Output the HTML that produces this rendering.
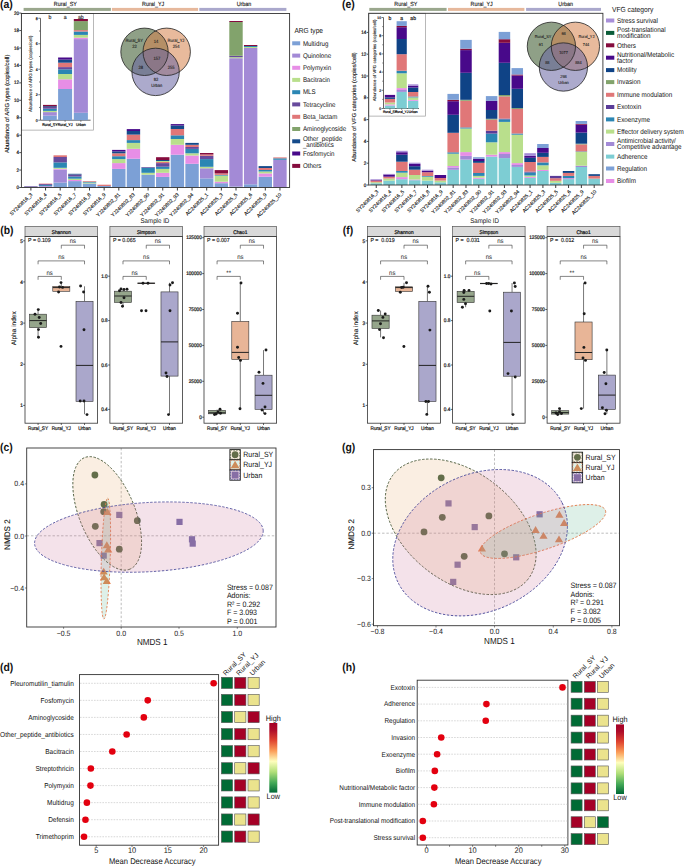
<!DOCTYPE html>
<html><head><meta charset="utf-8"><title>Figure</title>
<style>html,body{margin:0;padding:0;background:#fff;width:685px;height:866px;overflow:hidden}
svg{display:block}svg text{font-family:"Liberation Sans",sans-serif;text-rendering:geometricPrecision}</style></head>
<body>
<svg width="685" height="866" viewBox="0 0 685 866">
<rect width="685" height="866" fill="#fff"/>
<text x="0" y="7.8" font-size="10.5" fill="#111" font-weight="bold" transform="matrix(1 0 0 1.1 0 -0.78)">(a)</text>
<rect x="23.6" y="7.9" width="87.3" height="3" fill="#9aa78d"/>
<text x="65.3" y="6.1" font-size="5.4" text-anchor="middle" fill="#1a1a1a" stroke="#1a1a1a" stroke-width="0.12" transform="matrix(1 0 0 1.1 0 -0.61)">Rural_SY</text>
<rect x="111.9" y="7.9" width="86.2" height="3" fill="#e6b89c"/>
<text x="153.2" y="6.1" font-size="5.4" text-anchor="middle" fill="#1a1a1a" stroke="#1a1a1a" stroke-width="0.12" transform="matrix(1 0 0 1.1 0 -0.61)">Rural_YJ</text>
<rect x="199.3" y="7.9" width="87.1" height="3" fill="#aaa8cc"/>
<text x="244" y="6.1" font-size="5.4" text-anchor="middle" fill="#1a1a1a" stroke="#1a1a1a" stroke-width="0.12" transform="matrix(1 0 0 1.1 0 -0.61)">Urban</text>
<rect x="24.2" y="186.8" width="13.4" height="0.7" fill="#7ca0d6"/>
<rect x="24.2" y="186.2" width="13.4" height="0.6" fill="#674a9c"/>
<line x1="30.9" y1="187.5" x2="30.9" y2="190.5" stroke="#222" stroke-width="0.9"/>
<text x="32.7" y="194.9" font-size="5.1" text-anchor="end" fill="#111" stroke="#111" stroke-width="0.1" transform="rotate(-45 32.7 194.9)">SY240816_3</text>
<rect x="38.85" y="186.8" width="13.4" height="0.7" fill="#7ca0d6"/>
<rect x="38.85" y="186" width="13.4" height="0.8" fill="#a38ad6"/>
<rect x="38.85" y="185.1" width="13.4" height="0.9" fill="#2b86b3"/>
<rect x="38.85" y="184.1" width="13.4" height="1" fill="#674a9c"/>
<rect x="38.85" y="183.6" width="13.4" height="0.5" fill="#e07778"/>
<line x1="45.55" y1="187.5" x2="45.55" y2="190.5" stroke="#222" stroke-width="0.9"/>
<text x="47.35" y="194.9" font-size="5.1" text-anchor="end" fill="#111" stroke="#111" stroke-width="0.1" transform="rotate(-45 47.35 194.9)">SY240816_4</text>
<rect x="53.5" y="182.6" width="13.4" height="4.9" fill="#7ca0d6"/>
<rect x="53.5" y="169.7" width="13.4" height="12.9" fill="#a38ad6"/>
<rect x="53.5" y="168.8" width="13.4" height="0.9" fill="#e78ee6"/>
<rect x="53.5" y="167.8" width="13.4" height="1" fill="#b9df8c"/>
<rect x="53.5" y="162.4" width="13.4" height="5.4" fill="#2b86b3"/>
<rect x="53.5" y="157" width="13.4" height="5.4" fill="#674a9c"/>
<rect x="53.5" y="155.3" width="13.4" height="1.7" fill="#e07778"/>
<line x1="60.2" y1="187.5" x2="60.2" y2="190.5" stroke="#222" stroke-width="0.9"/>
<text x="62" y="194.9" font-size="5.1" text-anchor="end" fill="#111" stroke="#111" stroke-width="0.1" transform="rotate(-45 62 194.9)">SY240816_5</text>
<rect x="68.15" y="181.1" width="13.4" height="6.4" fill="#7ca0d6"/>
<rect x="68.15" y="180" width="13.4" height="1.1" fill="#e78ee6"/>
<rect x="68.15" y="178.7" width="13.4" height="1.3" fill="#b9df8c"/>
<rect x="68.15" y="176.5" width="13.4" height="2.2" fill="#2b86b3"/>
<rect x="68.15" y="174.5" width="13.4" height="2" fill="#674a9c"/>
<rect x="68.15" y="173.8" width="13.4" height="0.7" fill="#154a8a"/>
<line x1="74.85" y1="187.5" x2="74.85" y2="190.5" stroke="#222" stroke-width="0.9"/>
<text x="76.65" y="194.9" font-size="5.1" text-anchor="end" fill="#111" stroke="#111" stroke-width="0.1" transform="rotate(-45 76.65 194.9)">SY240816_7</text>
<rect x="82.8" y="183.5" width="13.4" height="4" fill="#7ca0d6"/>
<rect x="82.8" y="182.6" width="13.4" height="0.9" fill="#b9df8c"/>
<rect x="82.8" y="181.8" width="13.4" height="0.8" fill="#2b86b3"/>
<rect x="82.8" y="181.1" width="13.4" height="0.7" fill="#e07778"/>
<line x1="89.5" y1="187.5" x2="89.5" y2="190.5" stroke="#222" stroke-width="0.9"/>
<text x="91.3" y="194.9" font-size="5.1" text-anchor="end" fill="#111" stroke="#111" stroke-width="0.1" transform="rotate(-45 91.3 194.9)">SY240816_8</text>
<rect x="97.45" y="186" width="13.4" height="1.5" fill="#7ca0d6"/>
<rect x="97.45" y="184.7" width="13.4" height="1.3" fill="#e07778"/>
<line x1="104.15" y1="187.5" x2="104.15" y2="190.5" stroke="#222" stroke-width="0.9"/>
<text x="105.95" y="194.9" font-size="5.1" text-anchor="end" fill="#111" stroke="#111" stroke-width="0.1" transform="rotate(-45 105.95 194.9)">SY240816_9</text>
<rect x="112.1" y="168.9" width="13.4" height="18.6" fill="#7ca0d6"/>
<rect x="112.1" y="163.1" width="13.4" height="5.8" fill="#e78ee6"/>
<rect x="112.1" y="159.1" width="13.4" height="4" fill="#b9df8c"/>
<rect x="112.1" y="156.2" width="13.4" height="2.9" fill="#2b86b3"/>
<rect x="112.1" y="153.3" width="13.4" height="2.9" fill="#e07778"/>
<rect x="112.1" y="151.4" width="13.4" height="1.9" fill="#154a8a"/>
<rect x="112.1" y="149.9" width="13.4" height="1.5" fill="#48098a"/>
<line x1="118.8" y1="187.5" x2="118.8" y2="190.5" stroke="#222" stroke-width="0.9"/>
<text x="120.6" y="194.9" font-size="5.1" text-anchor="end" fill="#111" stroke="#111" stroke-width="0.1" transform="rotate(-45 120.6 194.9)">YJ240802_81</text>
<rect x="126.75" y="158.7" width="13.4" height="28.8" fill="#7ca0d6"/>
<rect x="126.75" y="148.8" width="13.4" height="9.9" fill="#e78ee6"/>
<rect x="126.75" y="142.9" width="13.4" height="5.9" fill="#b9df8c"/>
<rect x="126.75" y="140.1" width="13.4" height="2.8" fill="#2b86b3"/>
<rect x="126.75" y="134.6" width="13.4" height="5.5" fill="#e07778"/>
<rect x="126.75" y="131" width="13.4" height="3.6" fill="#154a8a"/>
<rect x="126.75" y="129.1" width="13.4" height="1.9" fill="#48098a"/>
<line x1="133.45" y1="187.5" x2="133.45" y2="190.5" stroke="#222" stroke-width="0.9"/>
<text x="135.25" y="194.9" font-size="5.1" text-anchor="end" fill="#111" stroke="#111" stroke-width="0.1" transform="rotate(-45 135.25 194.9)">YJ240802_83</text>
<rect x="141.4" y="174.7" width="13.4" height="12.8" fill="#7ca0d6"/>
<rect x="141.4" y="172.8" width="13.4" height="1.9" fill="#b9df8c"/>
<rect x="141.4" y="167.7" width="13.4" height="5.1" fill="#2b86b3"/>
<rect x="141.4" y="167" width="13.4" height="0.7" fill="#674a9c"/>
<line x1="148.1" y1="187.5" x2="148.1" y2="190.5" stroke="#222" stroke-width="0.9"/>
<text x="149.9" y="194.9" font-size="5.1" text-anchor="end" fill="#111" stroke="#111" stroke-width="0.1" transform="rotate(-45 149.9 194.9)">YJ240802_90</text>
<rect x="156.05" y="176.9" width="13.4" height="10.6" fill="#7ca0d6"/>
<rect x="156.05" y="172.8" width="13.4" height="4.1" fill="#e78ee6"/>
<rect x="156.05" y="168.9" width="13.4" height="3.9" fill="#b9df8c"/>
<rect x="156.05" y="166.7" width="13.4" height="2.2" fill="#2b86b3"/>
<rect x="156.05" y="163.1" width="13.4" height="3.6" fill="#674a9c"/>
<rect x="156.05" y="162" width="13.4" height="1.1" fill="#e07778"/>
<rect x="156.05" y="161" width="13.4" height="1" fill="#b9df8c"/>
<rect x="156.05" y="160" width="13.4" height="1" fill="#154a8a"/>
<rect x="156.05" y="157.2" width="13.4" height="2.8" fill="#850c3e"/>
<line x1="162.75" y1="187.5" x2="162.75" y2="190.5" stroke="#222" stroke-width="0.9"/>
<text x="164.55" y="194.9" font-size="5.1" text-anchor="end" fill="#111" stroke="#111" stroke-width="0.1" transform="rotate(-45 164.55 194.9)">YJ240802_91</text>
<rect x="170.7" y="154.7" width="13.4" height="32.8" fill="#7ca0d6"/>
<rect x="170.7" y="144.8" width="13.4" height="9.9" fill="#e78ee6"/>
<rect x="170.7" y="139" width="13.4" height="5.8" fill="#b9df8c"/>
<rect x="170.7" y="135.3" width="13.4" height="3.7" fill="#2b86b3"/>
<rect x="170.7" y="129" width="13.4" height="6.3" fill="#e07778"/>
<rect x="170.7" y="125.5" width="13.4" height="3.5" fill="#154a8a"/>
<rect x="170.7" y="124.1" width="13.4" height="1.4" fill="#48098a"/>
<line x1="177.4" y1="187.5" x2="177.4" y2="190.5" stroke="#222" stroke-width="0.9"/>
<text x="179.2" y="194.9" font-size="5.1" text-anchor="end" fill="#111" stroke="#111" stroke-width="0.1" transform="rotate(-45 179.2 194.9)">YJ240802_93</text>
<rect x="185.35" y="163.8" width="13.4" height="23.7" fill="#7ca0d6"/>
<rect x="185.35" y="155.5" width="13.4" height="8.3" fill="#e78ee6"/>
<rect x="185.35" y="153.3" width="13.4" height="2.2" fill="#b9df8c"/>
<rect x="185.35" y="148.9" width="13.4" height="4.4" fill="#2b86b3"/>
<rect x="185.35" y="147" width="13.4" height="1.9" fill="#674a9c"/>
<rect x="185.35" y="144.8" width="13.4" height="2.2" fill="#e07778"/>
<rect x="185.35" y="142.9" width="13.4" height="1.9" fill="#154a8a"/>
<line x1="192.05" y1="187.5" x2="192.05" y2="190.5" stroke="#222" stroke-width="0.9"/>
<text x="193.85" y="194.9" font-size="5.1" text-anchor="end" fill="#111" stroke="#111" stroke-width="0.1" transform="rotate(-45 193.85 194.9)">YJ240802_94</text>
<rect x="200" y="178.4" width="13.4" height="9.1" fill="#7ca0d6"/>
<rect x="200" y="168.3" width="13.4" height="10.1" fill="#a38ad6"/>
<rect x="200" y="166.8" width="13.4" height="1.5" fill="#b9df8c"/>
<rect x="200" y="159.1" width="13.4" height="7.7" fill="#2b86b3"/>
<rect x="200" y="155.8" width="13.4" height="3.3" fill="#674a9c"/>
<rect x="200" y="154.5" width="13.4" height="1.3" fill="#e07778"/>
<rect x="200" y="153" width="13.4" height="1.5" fill="#850c3e"/>
<line x1="206.7" y1="187.5" x2="206.7" y2="190.5" stroke="#222" stroke-width="0.9"/>
<text x="208.5" y="194.9" font-size="5.1" text-anchor="end" fill="#111" stroke="#111" stroke-width="0.1" transform="rotate(-45 208.5 194.9)">AC240825_1</text>
<rect x="214.65" y="183.2" width="13.4" height="4.3" fill="#7ca0d6"/>
<rect x="214.65" y="181.7" width="13.4" height="1.5" fill="#e78ee6"/>
<rect x="214.65" y="175.6" width="13.4" height="6.1" fill="#b9df8c"/>
<rect x="214.65" y="174.9" width="13.4" height="0.7" fill="#2b86b3"/>
<rect x="214.65" y="173.4" width="13.4" height="1.5" fill="#e07778"/>
<rect x="214.65" y="170.1" width="13.4" height="3.3" fill="#850c3e"/>
<line x1="221.35" y1="187.5" x2="221.35" y2="190.5" stroke="#222" stroke-width="0.9"/>
<text x="223.15" y="194.9" font-size="5.1" text-anchor="end" fill="#111" stroke="#111" stroke-width="0.1" transform="rotate(-45 223.15 194.9)">AC240825_3</text>
<rect x="229.3" y="186.5" width="13.4" height="1" fill="#7ca0d6"/>
<rect x="229.3" y="58.2" width="13.4" height="128.3" fill="#a38ad6"/>
<rect x="229.3" y="57.2" width="13.4" height="1" fill="#b9df8c"/>
<rect x="229.3" y="55.8" width="13.4" height="1.4" fill="#674a9c"/>
<rect x="229.3" y="22" width="13.4" height="33.8" fill="#82a36c"/>
<rect x="229.3" y="21" width="13.4" height="1" fill="#850c3e"/>
<line x1="236" y1="187.5" x2="236" y2="190.5" stroke="#222" stroke-width="0.9"/>
<text x="237.8" y="194.9" font-size="5.1" text-anchor="end" fill="#111" stroke="#111" stroke-width="0.1" transform="rotate(-45 237.8 194.9)">AC240825_5</text>
<rect x="243.95" y="184.3" width="13.4" height="3.2" fill="#7ca0d6"/>
<rect x="243.95" y="48" width="13.4" height="136.3" fill="#a38ad6"/>
<rect x="243.95" y="47" width="13.4" height="1" fill="#b9df8c"/>
<rect x="243.95" y="46" width="13.4" height="1" fill="#2b86b3"/>
<rect x="243.95" y="45" width="13.4" height="1" fill="#850c3e"/>
<line x1="250.65" y1="187.5" x2="250.65" y2="190.5" stroke="#222" stroke-width="0.9"/>
<text x="252.45" y="194.9" font-size="5.1" text-anchor="end" fill="#111" stroke="#111" stroke-width="0.1" transform="rotate(-45 252.45 194.9)">AC240825_6</text>
<rect x="258.6" y="176.7" width="13.4" height="10.8" fill="#7ca0d6"/>
<rect x="258.6" y="173.4" width="13.4" height="3.3" fill="#e78ee6"/>
<rect x="258.6" y="171.5" width="13.4" height="1.9" fill="#b9df8c"/>
<rect x="258.6" y="170" width="13.4" height="1.5" fill="#2b86b3"/>
<rect x="258.6" y="168" width="13.4" height="2" fill="#e07778"/>
<rect x="258.6" y="166.1" width="13.4" height="1.9" fill="#154a8a"/>
<line x1="265.3" y1="187.5" x2="265.3" y2="190.5" stroke="#222" stroke-width="0.9"/>
<text x="267.1" y="194.9" font-size="5.1" text-anchor="end" fill="#111" stroke="#111" stroke-width="0.1" transform="rotate(-45 267.1 194.9)">AC240825_9</text>
<rect x="273.25" y="159.8" width="13.4" height="27.7" fill="#a38ad6"/>
<rect x="273.25" y="158.3" width="13.4" height="1.5" fill="#2b86b3"/>
<rect x="273.25" y="157.4" width="13.4" height="0.9" fill="#e07778"/>
<line x1="279.95" y1="187.5" x2="279.95" y2="190.5" stroke="#222" stroke-width="0.9"/>
<text x="281.75" y="194.9" font-size="5.1" text-anchor="end" fill="#111" stroke="#111" stroke-width="0.1" transform="rotate(-45 281.75 194.9)">AC240825_10</text>
<line x1="19.3" y1="187.5" x2="21.4" y2="187.5" stroke="#222" stroke-width="0.8"/>
<text x="19" y="189.1" font-size="4.5" text-anchor="end" fill="#1a1a1a" stroke="#1a1a1a" stroke-width="0.2" transform="matrix(1 0 0 1.1 0 -18.91)">0</text>
<line x1="19.3" y1="170.06" x2="21.4" y2="170.06" stroke="#222" stroke-width="0.8"/>
<text x="19" y="171.66" font-size="4.5" text-anchor="end" fill="#1a1a1a" stroke="#1a1a1a" stroke-width="0.2" transform="matrix(1 0 0 1.1 0 -17.17)">2</text>
<line x1="19.3" y1="152.62" x2="21.4" y2="152.62" stroke="#222" stroke-width="0.8"/>
<text x="19" y="154.22" font-size="4.5" text-anchor="end" fill="#1a1a1a" stroke="#1a1a1a" stroke-width="0.2" transform="matrix(1 0 0 1.1 0 -15.42)">4</text>
<line x1="19.3" y1="135.18" x2="21.4" y2="135.18" stroke="#222" stroke-width="0.8"/>
<text x="19" y="136.78" font-size="4.5" text-anchor="end" fill="#1a1a1a" stroke="#1a1a1a" stroke-width="0.2" transform="matrix(1 0 0 1.1 0 -13.68)">6</text>
<line x1="19.3" y1="117.74" x2="21.4" y2="117.74" stroke="#222" stroke-width="0.8"/>
<text x="19" y="119.34" font-size="4.5" text-anchor="end" fill="#1a1a1a" stroke="#1a1a1a" stroke-width="0.2" transform="matrix(1 0 0 1.1 0 -11.93)">8</text>
<line x1="19.3" y1="100.3" x2="21.4" y2="100.3" stroke="#222" stroke-width="0.8"/>
<text x="19" y="101.9" font-size="4.5" text-anchor="end" fill="#1a1a1a" stroke="#1a1a1a" stroke-width="0.2" transform="matrix(1 0 0 1.1 0 -10.19)">10</text>
<line x1="19.3" y1="82.86" x2="21.4" y2="82.86" stroke="#222" stroke-width="0.8"/>
<text x="19" y="84.46" font-size="4.5" text-anchor="end" fill="#1a1a1a" stroke="#1a1a1a" stroke-width="0.2" transform="matrix(1 0 0 1.1 0 -8.45)">12</text>
<line x1="19.3" y1="65.42" x2="21.4" y2="65.42" stroke="#222" stroke-width="0.8"/>
<text x="19" y="67.02" font-size="4.5" text-anchor="end" fill="#1a1a1a" stroke="#1a1a1a" stroke-width="0.2" transform="matrix(1 0 0 1.1 0 -6.7)">14</text>
<line x1="19.3" y1="47.98" x2="21.4" y2="47.98" stroke="#222" stroke-width="0.8"/>
<text x="19" y="49.58" font-size="4.5" text-anchor="end" fill="#1a1a1a" stroke="#1a1a1a" stroke-width="0.2" transform="matrix(1 0 0 1.1 0 -4.96)">16</text>
<line x1="19.3" y1="30.54" x2="21.4" y2="30.54" stroke="#222" stroke-width="0.8"/>
<text x="19" y="32.14" font-size="4.5" text-anchor="end" fill="#1a1a1a" stroke="#1a1a1a" stroke-width="0.2" transform="matrix(1 0 0 1.1 0 -3.21)">18</text>
<line x1="19.3" y1="13.1" x2="21.4" y2="13.1" stroke="#222" stroke-width="0.8"/>
<text x="19" y="14.7" font-size="4.5" text-anchor="end" fill="#1a1a1a" stroke="#1a1a1a" stroke-width="0.2" transform="matrix(1 0 0 1.1 0 -1.47)">20</text>
<text x="9.2" y="103.9" font-size="5.85" text-anchor="middle" fill="#111" stroke="#111" stroke-width="0.1" transform="rotate(-90 9.2 103.9)">Abundance of ARG types (copies/cell)</text>
<text x="154.9" y="222.8" font-size="6.2" text-anchor="middle" fill="#111" transform="matrix(1 0 0 1.1 0 -22.28)">Sample ID</text>
<rect x="21.4" y="13.5" width="72.2" height="116.6" fill="#fff" stroke="#9a9a9a" stroke-width="0.7"/>
<line x1="40.5" y1="18.28" x2="40.5" y2="120.2" stroke="#555" stroke-width="0.9"/>
<line x1="40.5" y1="120.2" x2="90.6" y2="120.2" stroke="#555" stroke-width="0.9"/>
<line x1="38.3" y1="120.2" x2="40.5" y2="120.2" stroke="#555" stroke-width="0.8"/>
<text x="37.6" y="121.5" font-size="3.5" text-anchor="end" fill="#1a1a1a" stroke="#1a1a1a" stroke-width="0.2" transform="matrix(1 0 0 1.1 0 -12.15)">0</text>
<line x1="39" y1="107.46" x2="40.5" y2="107.46" stroke="#555" stroke-width="0.8"/>
<line x1="38.3" y1="94.72" x2="40.5" y2="94.72" stroke="#555" stroke-width="0.8"/>
<text x="37.6" y="96.02" font-size="3.5" text-anchor="end" fill="#1a1a1a" stroke="#1a1a1a" stroke-width="0.2" transform="matrix(1 0 0 1.1 0 -9.6)">2</text>
<line x1="39" y1="81.98" x2="40.5" y2="81.98" stroke="#555" stroke-width="0.8"/>
<line x1="38.3" y1="69.24" x2="40.5" y2="69.24" stroke="#555" stroke-width="0.8"/>
<text x="37.6" y="70.54" font-size="3.5" text-anchor="end" fill="#1a1a1a" stroke="#1a1a1a" stroke-width="0.2" transform="matrix(1 0 0 1.1 0 -7.05)">4</text>
<line x1="39" y1="56.5" x2="40.5" y2="56.5" stroke="#555" stroke-width="0.8"/>
<line x1="38.3" y1="43.76" x2="40.5" y2="43.76" stroke="#555" stroke-width="0.8"/>
<text x="37.6" y="45.06" font-size="3.5" text-anchor="end" fill="#1a1a1a" stroke="#1a1a1a" stroke-width="0.2" transform="matrix(1 0 0 1.1 0 -4.51)">6</text>
<line x1="39" y1="31.02" x2="40.5" y2="31.02" stroke="#555" stroke-width="0.8"/>
<line x1="38.3" y1="18.28" x2="40.5" y2="18.28" stroke="#555" stroke-width="0.8"/>
<text x="37.6" y="19.58" font-size="3.5" text-anchor="end" fill="#1a1a1a" stroke="#1a1a1a" stroke-width="0.2" transform="matrix(1 0 0 1.1 0 -1.96)">8</text>
<rect x="43" y="115.6" width="13.8" height="4.6" fill="#7ca0d6"/>
<rect x="43" y="112.1" width="13.8" height="3.5" fill="#a38ad6"/>
<rect x="43" y="110.9" width="13.8" height="1.2" fill="#b9df8c"/>
<rect x="43" y="108.7" width="13.8" height="2.2" fill="#2b86b3"/>
<rect x="43" y="107" width="13.8" height="1.7" fill="#674a9c"/>
<rect x="43" y="106.2" width="13.8" height="0.8" fill="#154a8a"/>
<rect x="43" y="104.9" width="13.8" height="1.3" fill="#850c3e"/>
<line x1="49.9" y1="120.2" x2="49.9" y2="122" stroke="#333" stroke-width="0.5"/>
<text x="49.9" y="126.4" font-size="3.6" text-anchor="middle" fill="#1a1a1a" stroke="#1a1a1a" stroke-width="0.2" transform="matrix(1 0 0 1.1 0 -12.64)">Rural_SY</text>
<text x="49.9" y="19.2" font-size="5.2" text-anchor="middle" fill="#1a1a1a" stroke="#1a1a1a" stroke-width="0.12" transform="matrix(1 0 0 1.1 0 -1.92)">b</text>
<rect x="58.1" y="89" width="14" height="31.2" fill="#7ca0d6"/>
<rect x="58.1" y="79.3" width="14" height="9.7" fill="#e78ee6"/>
<rect x="58.1" y="74" width="14" height="5.3" fill="#b9df8c"/>
<rect x="58.1" y="69.3" width="14" height="4.7" fill="#2b86b3"/>
<rect x="58.1" y="67.1" width="14" height="2.2" fill="#674a9c"/>
<rect x="58.1" y="62.7" width="14" height="4.4" fill="#e07778"/>
<rect x="58.1" y="59.6" width="14" height="3.1" fill="#154a8a"/>
<rect x="58.1" y="57.5" width="14" height="2.1" fill="#48098a"/>
<line x1="65.1" y1="120.2" x2="65.1" y2="122" stroke="#333" stroke-width="0.5"/>
<text x="65.1" y="126.4" font-size="3.6" text-anchor="middle" fill="#1a1a1a" stroke="#1a1a1a" stroke-width="0.2" transform="matrix(1 0 0 1.1 0 -12.64)">Rural_YJ</text>
<text x="65.1" y="19.2" font-size="5.2" text-anchor="middle" fill="#1a1a1a" stroke="#1a1a1a" stroke-width="0.12" transform="matrix(1 0 0 1.1 0 -1.92)">a</text>
<rect x="73.8" y="112.8" width="14.1" height="7.4" fill="#7ca0d6"/>
<rect x="73.8" y="39.1" width="14.1" height="73.7" fill="#a38ad6"/>
<rect x="73.8" y="37.7" width="14.1" height="1.4" fill="#e78ee6"/>
<rect x="73.8" y="34.9" width="14.1" height="2.8" fill="#b9df8c"/>
<rect x="73.8" y="31.5" width="14.1" height="3.4" fill="#2b86b3"/>
<rect x="73.8" y="30.1" width="14.1" height="1.4" fill="#e07778"/>
<rect x="73.8" y="21.1" width="14.1" height="9" fill="#82a36c"/>
<rect x="73.8" y="19" width="14.1" height="2.1" fill="#850c3e"/>
<line x1="80.85" y1="120.2" x2="80.85" y2="122" stroke="#333" stroke-width="0.5"/>
<text x="80.85" y="126.4" font-size="3.6" text-anchor="middle" fill="#1a1a1a" stroke="#1a1a1a" stroke-width="0.2" transform="matrix(1 0 0 1.1 0 -12.64)">Urban</text>
<text x="80.85" y="19.2" font-size="5.2" text-anchor="middle" fill="#1a1a1a" stroke="#1a1a1a" stroke-width="0.12" transform="matrix(1 0 0 1.1 0 -1.92)">ab</text>
<text x="31.8" y="73.8" font-size="4.55" text-anchor="middle" fill="#1a1a1a" stroke="#1a1a1a" stroke-width="0.1" transform="rotate(-90 31.8 73.8)">Abundance of ARG types (copies/cell)</text>
<rect x="21.4" y="13.5" width="268.2" height="174" fill="none" stroke="#333" stroke-width="0.9"/>
<g>
<circle cx="144.5" cy="51.8" r="23.7" fill="#335225" fill-opacity="0.55"/>
<circle cx="166.7" cy="51.8" r="23.7" fill="#d5824b" fill-opacity="0.55"/>
<circle cx="155.6" cy="71.9" r="23.7" fill="#6864a2" fill-opacity="0.55"/>
<circle cx="144.5" cy="51.8" r="23.7" fill="none" stroke="#222" stroke-width="0.8"/>
<circle cx="166.7" cy="51.8" r="23.7" fill="none" stroke="#222" stroke-width="0.8"/>
<circle cx="155.6" cy="71.9" r="23.7" fill="none" stroke="#222" stroke-width="0.8"/>
<text x="134.3" y="42" font-size="4.1" text-anchor="middle" fill="#222" stroke="#222" stroke-width="0.09" transform="matrix(1 0 0 1.1 0 -4.2)">Rural_SY</text>
<text x="134.6" y="48" font-size="4.1" text-anchor="middle" fill="#222" stroke="#222" stroke-width="0.09" transform="matrix(1 0 0 1.1 0 -4.8)">22</text>
<text x="156" y="42.6" font-size="4.1" text-anchor="middle" fill="#222" stroke="#222" stroke-width="0.09" transform="matrix(1 0 0 1.1 0 -4.26)">14</text>
<text x="176" y="42" font-size="4.1" text-anchor="middle" fill="#222" stroke="#222" stroke-width="0.09" transform="matrix(1 0 0 1.1 0 -4.2)">Rural_YJ</text>
<text x="176.2" y="48.2" font-size="4.1" text-anchor="middle" fill="#222" stroke="#222" stroke-width="0.09" transform="matrix(1 0 0 1.1 0 -4.82)">254</text>
<text x="156.8" y="60.2" font-size="4.1" text-anchor="middle" fill="#222" stroke="#222" stroke-width="0.09" transform="matrix(1 0 0 1.1 0 -6.02)">157</text>
<text x="140.8" y="68.6" font-size="4.1" text-anchor="middle" fill="#222" stroke="#222" stroke-width="0.09" transform="matrix(1 0 0 1.1 0 -6.86)">28</text>
<text x="171.2" y="68.6" font-size="4.1" text-anchor="middle" fill="#222" stroke="#222" stroke-width="0.09" transform="matrix(1 0 0 1.1 0 -6.86)">255</text>
<text x="156" y="81" font-size="4.1" text-anchor="middle" fill="#222" stroke="#222" stroke-width="0.09" transform="matrix(1 0 0 1.1 0 -8.1)">92</text>
<text x="156.8" y="87" font-size="4.1" text-anchor="middle" fill="#222" stroke="#222" stroke-width="0.09" transform="matrix(1 0 0 1.1 0 -8.7)">Urban</text>
</g>
<text x="294.4" y="32.6" font-size="6.6" fill="#111" transform="matrix(1 0 0 1.1 0 -3.26)">ARG type</text>
<rect x="292.2" y="41.3" width="8" height="4" fill="#7ca0d6"/>
<text x="302.9" y="45.5" font-size="6.2" fill="#111" transform="matrix(1 0 0 1.1 0 -4.55)">Multidrug</text>
<rect x="292.2" y="53.6" width="8" height="4" fill="#a38ad6"/>
<text x="302.9" y="57.8" font-size="6.2" fill="#111" transform="matrix(1 0 0 1.1 0 -5.78)">Quinolone</text>
<rect x="292.2" y="65.8" width="8" height="4" fill="#e78ee6"/>
<text x="302.9" y="70" font-size="6.2" fill="#111" transform="matrix(1 0 0 1.1 0 -7)">Polymyxin</text>
<rect x="292.2" y="77.9" width="8" height="4" fill="#b9df8c"/>
<text x="302.9" y="82.1" font-size="6.2" fill="#111" transform="matrix(1 0 0 1.1 0 -8.21)">Bacitracin</text>
<rect x="292.2" y="90.2" width="8" height="4" fill="#2b86b3"/>
<text x="302.9" y="94.4" font-size="6.2" fill="#111" transform="matrix(1 0 0 1.1 0 -9.44)">MLS</text>
<rect x="292.2" y="102.4" width="8" height="4" fill="#674a9c"/>
<text x="302.9" y="106.6" font-size="6.2" fill="#111" transform="matrix(1 0 0 1.1 0 -10.66)">Tetracycline</text>
<rect x="292.2" y="114.8" width="8" height="4" fill="#e07778"/>
<text x="302.9" y="119" font-size="6.2" fill="#111" transform="matrix(1 0 0 1.1 0 -11.9)">Beta_lactam</text>
<rect x="292.2" y="127" width="8" height="4" fill="#82a36c"/>
<text x="302.9" y="131.2" font-size="6.2" fill="#111" transform="matrix(1 0 0 1.1 0 -13.12)">Aminoglycoside</text>
<rect x="292.2" y="139.3" width="8" height="4" fill="#154a8a"/>
<rect x="292.2" y="151.5" width="8" height="4" fill="#48098a"/>
<text x="302.9" y="155.7" font-size="6.2" fill="#111" transform="matrix(1 0 0 1.1 0 -15.57)">Fosfomycin</text>
<rect x="292.2" y="163.9" width="8" height="4" fill="#850c3e"/>
<text x="302.9" y="168.1" font-size="6.2" fill="#111" transform="matrix(1 0 0 1.1 0 -16.81)">Others</text>
<text x="302.9" y="140.9" font-size="6.2" fill="#111" transform="matrix(1 0 0 1.1 0 -14.09)">Other_peptide</text>
<text x="302.9" y="147.2" font-size="6.2" fill="#111" transform="matrix(1 0 0 1.1 0 -14.72)">_antibiotics</text>
<text x="342" y="7.8" font-size="10.5" fill="#111" font-weight="bold" transform="matrix(1 0 0 1.1 0 -0.78)">(e)</text>
<rect x="369.3" y="7.9" width="77.3" height="3" fill="#9aa78d"/>
<text x="405.8" y="6.1" font-size="5.4" text-anchor="middle" fill="#1a1a1a" stroke="#1a1a1a" stroke-width="0.12" transform="matrix(1 0 0 1.1 0 -0.61)">Rural_SY</text>
<rect x="448" y="7.9" width="76.4" height="3" fill="#e6b89c"/>
<text x="481.6" y="6.1" font-size="5.4" text-anchor="middle" fill="#1a1a1a" stroke="#1a1a1a" stroke-width="0.12" transform="matrix(1 0 0 1.1 0 -0.61)">Rural_YJ</text>
<rect x="526.1" y="7.9" width="74.9" height="3" fill="#aaa8cc"/>
<text x="565.7" y="6.1" font-size="5.4" text-anchor="middle" fill="#1a1a1a" stroke="#1a1a1a" stroke-width="0.12" transform="matrix(1 0 0 1.1 0 -0.61)">Urban</text>
<rect x="370.5" y="183.2" width="11.5" height="1.8" fill="#7dcdd3"/>
<rect x="370.5" y="182.2" width="11.5" height="1" fill="#b9df8c"/>
<rect x="370.5" y="180.5" width="11.5" height="1.7" fill="#e07778"/>
<rect x="370.5" y="179.8" width="11.5" height="0.7" fill="#48098a"/>
<rect x="370.5" y="179.2" width="11.5" height="0.6" fill="#a88fd8"/>
<line x1="376.25" y1="185" x2="376.25" y2="188" stroke="#222" stroke-width="0.9"/>
<text x="378.85" y="191.9" font-size="5.1" text-anchor="end" fill="#111" stroke="#111" stroke-width="0.1" transform="rotate(-45 378.85 191.9)">SY240816_3</text>
<rect x="383.32" y="180.6" width="11.5" height="4.4" fill="#7dcdd3"/>
<rect x="383.32" y="178.5" width="11.5" height="2.1" fill="#b9df8c"/>
<rect x="383.32" y="176.7" width="11.5" height="1.8" fill="#e07778"/>
<rect x="383.32" y="174.5" width="11.5" height="2.2" fill="#48098a"/>
<rect x="383.32" y="173.9" width="11.5" height="0.6" fill="#a88fd8"/>
<line x1="389.07" y1="185" x2="389.07" y2="188" stroke="#222" stroke-width="0.9"/>
<text x="391.67" y="191.9" font-size="5.1" text-anchor="end" fill="#111" stroke="#111" stroke-width="0.1" transform="rotate(-45 391.67 191.9)">SY240816_4</text>
<rect x="396.14" y="179.2" width="11.5" height="5.8" fill="#7dcdd3"/>
<rect x="396.14" y="177.1" width="11.5" height="2.1" fill="#e78ee6"/>
<rect x="396.14" y="172.7" width="11.5" height="4.4" fill="#b9df8c"/>
<rect x="396.14" y="171" width="11.5" height="1.7" fill="#2b86b3"/>
<rect x="396.14" y="161.7" width="11.5" height="9.3" fill="#e07778"/>
<rect x="396.14" y="154.7" width="11.5" height="7" fill="#0f4386"/>
<rect x="396.14" y="152.2" width="11.5" height="2.5" fill="#48098a"/>
<rect x="396.14" y="150.8" width="11.5" height="1.4" fill="#a88fd8"/>
<line x1="401.89" y1="185" x2="401.89" y2="188" stroke="#222" stroke-width="0.9"/>
<text x="404.49" y="191.9" font-size="5.1" text-anchor="end" fill="#111" stroke="#111" stroke-width="0.1" transform="rotate(-45 404.49 191.9)">SY240816_5</text>
<rect x="408.96" y="180.2" width="11.5" height="4.8" fill="#7dcdd3"/>
<rect x="408.96" y="179.5" width="11.5" height="0.7" fill="#e78ee6"/>
<rect x="408.96" y="175" width="11.5" height="4.5" fill="#b9df8c"/>
<rect x="408.96" y="169.7" width="11.5" height="5.3" fill="#e07778"/>
<rect x="408.96" y="166.2" width="11.5" height="3.5" fill="#0f4386"/>
<rect x="408.96" y="163.9" width="11.5" height="2.3" fill="#48098a"/>
<rect x="408.96" y="162.7" width="11.5" height="1.2" fill="#a88fd8"/>
<line x1="414.71" y1="185" x2="414.71" y2="188" stroke="#222" stroke-width="0.9"/>
<text x="417.31" y="191.9" font-size="5.1" text-anchor="end" fill="#111" stroke="#111" stroke-width="0.1" transform="rotate(-45 417.31 191.9)">SY240816_7</text>
<rect x="421.78" y="180.6" width="11.5" height="4.4" fill="#7dcdd3"/>
<rect x="421.78" y="176.7" width="11.5" height="3.9" fill="#b9df8c"/>
<rect x="421.78" y="176" width="11.5" height="0.7" fill="#2b86b3"/>
<rect x="421.78" y="172.2" width="11.5" height="3.8" fill="#e07778"/>
<rect x="421.78" y="170.8" width="11.5" height="1.4" fill="#48098a"/>
<rect x="421.78" y="169.7" width="11.5" height="1.1" fill="#a88fd8"/>
<line x1="427.53" y1="185" x2="427.53" y2="188" stroke="#222" stroke-width="0.9"/>
<text x="430.13" y="191.9" font-size="5.1" text-anchor="end" fill="#111" stroke="#111" stroke-width="0.1" transform="rotate(-45 430.13 191.9)">SY240816_8</text>
<rect x="434.6" y="182.3" width="11.5" height="2.7" fill="#7dcdd3"/>
<rect x="434.6" y="180.6" width="11.5" height="1.7" fill="#b9df8c"/>
<rect x="434.6" y="178" width="11.5" height="2.6" fill="#e07778"/>
<rect x="434.6" y="175" width="11.5" height="3" fill="#48098a"/>
<line x1="440.35" y1="185" x2="440.35" y2="188" stroke="#222" stroke-width="0.9"/>
<text x="442.95" y="191.9" font-size="5.1" text-anchor="end" fill="#111" stroke="#111" stroke-width="0.1" transform="rotate(-45 442.95 191.9)">SY240816_9</text>
<rect x="447.42" y="169.8" width="11.5" height="15.2" fill="#7dcdd3"/>
<rect x="447.42" y="167.4" width="11.5" height="2.4" fill="#a38ad6"/>
<rect x="447.42" y="166" width="11.5" height="1.4" fill="#e78ee6"/>
<rect x="447.42" y="153.7" width="11.5" height="12.3" fill="#b9df8c"/>
<rect x="447.42" y="152.3" width="11.5" height="1.4" fill="#2b86b3"/>
<rect x="447.42" y="132.8" width="11.5" height="19.5" fill="#e07778"/>
<rect x="447.42" y="114.8" width="11.5" height="18" fill="#0f4386"/>
<rect x="447.42" y="101.2" width="11.5" height="13.6" fill="#48098a"/>
<rect x="447.42" y="99.8" width="11.5" height="1.4" fill="#850c3e"/>
<rect x="447.42" y="93.9" width="11.5" height="5.9" fill="#7ca0d6"/>
<line x1="453.17" y1="185" x2="453.17" y2="188" stroke="#222" stroke-width="0.9"/>
<text x="455.77" y="191.9" font-size="5.1" text-anchor="end" fill="#111" stroke="#111" stroke-width="0.1" transform="rotate(-45 455.77 191.9)">YJ240802_81</text>
<rect x="460.24" y="159.6" width="11.5" height="25.4" fill="#7dcdd3"/>
<rect x="460.24" y="155.9" width="11.5" height="3.7" fill="#a38ad6"/>
<rect x="460.24" y="152.1" width="11.5" height="3.8" fill="#e78ee6"/>
<rect x="460.24" y="128.5" width="11.5" height="23.6" fill="#b9df8c"/>
<rect x="460.24" y="127.4" width="11.5" height="1.1" fill="#2b86b3"/>
<rect x="460.24" y="100.8" width="11.5" height="26.6" fill="#e07778"/>
<rect x="460.24" y="99.8" width="11.5" height="1" fill="#82a36c"/>
<rect x="460.24" y="72.8" width="11.5" height="27" fill="#0f4386"/>
<rect x="460.24" y="50.1" width="11.5" height="22.7" fill="#48098a"/>
<rect x="460.24" y="48.7" width="11.5" height="1.4" fill="#850c3e"/>
<rect x="460.24" y="39.9" width="11.5" height="8.8" fill="#7ca0d6"/>
<line x1="465.99" y1="185" x2="465.99" y2="188" stroke="#222" stroke-width="0.9"/>
<text x="468.59" y="191.9" font-size="5.1" text-anchor="end" fill="#111" stroke="#111" stroke-width="0.1" transform="rotate(-45 468.59 191.9)">YJ240802_83</text>
<rect x="473.06" y="178.8" width="11.5" height="6.2" fill="#7dcdd3"/>
<rect x="473.06" y="177.7" width="11.5" height="1.1" fill="#e78ee6"/>
<rect x="473.06" y="175.9" width="11.5" height="1.8" fill="#b9df8c"/>
<rect x="473.06" y="173" width="11.5" height="2.9" fill="#2b86b3"/>
<rect x="473.06" y="162.8" width="11.5" height="10.2" fill="#e07778"/>
<rect x="473.06" y="161" width="11.5" height="1.8" fill="#0f4386"/>
<rect x="473.06" y="158.7" width="11.5" height="2.3" fill="#48098a"/>
<rect x="473.06" y="157.2" width="11.5" height="1.5" fill="#7ca0d6"/>
<line x1="478.81" y1="185" x2="478.81" y2="188" stroke="#222" stroke-width="0.9"/>
<text x="481.41" y="191.9" font-size="5.1" text-anchor="end" fill="#111" stroke="#111" stroke-width="0.1" transform="rotate(-45 481.41 191.9)">YJ240802_90</text>
<rect x="485.88" y="156.6" width="11.5" height="28.4" fill="#7dcdd3"/>
<rect x="485.88" y="154.7" width="11.5" height="1.9" fill="#e78ee6"/>
<rect x="485.88" y="142.3" width="11.5" height="12.4" fill="#b9df8c"/>
<rect x="485.88" y="133.6" width="11.5" height="8.7" fill="#2b86b3"/>
<rect x="485.88" y="130.7" width="11.5" height="2.9" fill="#5a3c98"/>
<rect x="485.88" y="119.7" width="11.5" height="11" fill="#e07778"/>
<rect x="485.88" y="118.8" width="11.5" height="0.9" fill="#82a36c"/>
<rect x="485.88" y="110" width="11.5" height="8.8" fill="#0f4386"/>
<rect x="485.88" y="100.8" width="11.5" height="9.2" fill="#48098a"/>
<rect x="485.88" y="96.1" width="11.5" height="4.7" fill="#7ca0d6"/>
<line x1="491.63" y1="185" x2="491.63" y2="188" stroke="#222" stroke-width="0.9"/>
<text x="494.23" y="191.9" font-size="5.1" text-anchor="end" fill="#111" stroke="#111" stroke-width="0.1" transform="rotate(-45 494.23 191.9)">YJ240802_91</text>
<rect x="498.7" y="158.1" width="11.5" height="26.9" fill="#7dcdd3"/>
<rect x="498.7" y="154" width="11.5" height="4.1" fill="#a38ad6"/>
<rect x="498.7" y="152.1" width="11.5" height="1.9" fill="#e78ee6"/>
<rect x="498.7" y="121.9" width="11.5" height="30.2" fill="#b9df8c"/>
<rect x="498.7" y="119.3" width="11.5" height="2.6" fill="#2b86b3"/>
<rect x="498.7" y="118.6" width="11.5" height="0.7" fill="#5a3c98"/>
<rect x="498.7" y="96.4" width="11.5" height="22.2" fill="#e07778"/>
<rect x="498.7" y="95" width="11.5" height="1.4" fill="#82a36c"/>
<rect x="498.7" y="62.8" width="11.5" height="32.2" fill="#0f4386"/>
<rect x="498.7" y="42.8" width="11.5" height="20" fill="#48098a"/>
<rect x="498.7" y="39.2" width="11.5" height="3.6" fill="#850c3e"/>
<rect x="498.7" y="31.9" width="11.5" height="7.3" fill="#7ca0d6"/>
<line x1="504.45" y1="185" x2="504.45" y2="188" stroke="#222" stroke-width="0.9"/>
<text x="507.05" y="191.9" font-size="5.1" text-anchor="end" fill="#111" stroke="#111" stroke-width="0.1" transform="rotate(-45 507.05 191.9)">YJ240802_93</text>
<rect x="511.52" y="166.9" width="11.5" height="18.1" fill="#7dcdd3"/>
<rect x="511.52" y="165" width="11.5" height="1.9" fill="#a38ad6"/>
<rect x="511.52" y="163.1" width="11.5" height="1.9" fill="#e78ee6"/>
<rect x="511.52" y="134.7" width="11.5" height="28.4" fill="#b9df8c"/>
<rect x="511.52" y="133.5" width="11.5" height="1.2" fill="#2b86b3"/>
<rect x="511.52" y="109" width="11.5" height="24.5" fill="#e07778"/>
<rect x="511.52" y="108.1" width="11.5" height="0.9" fill="#82a36c"/>
<rect x="511.52" y="88.8" width="11.5" height="19.3" fill="#0f4386"/>
<rect x="511.52" y="75.5" width="11.5" height="13.3" fill="#48098a"/>
<rect x="511.52" y="74.5" width="11.5" height="1" fill="#850c3e"/>
<rect x="511.52" y="68.1" width="11.5" height="6.4" fill="#7ca0d6"/>
<line x1="517.27" y1="185" x2="517.27" y2="188" stroke="#222" stroke-width="0.9"/>
<text x="519.87" y="191.9" font-size="5.1" text-anchor="end" fill="#111" stroke="#111" stroke-width="0.1" transform="rotate(-45 519.87 191.9)">YJ240802_94</text>
<rect x="524.34" y="177.9" width="11.5" height="7.1" fill="#7dcdd3"/>
<rect x="524.34" y="176.9" width="11.5" height="1" fill="#e78ee6"/>
<rect x="524.34" y="175.5" width="11.5" height="1.4" fill="#b9df8c"/>
<rect x="524.34" y="172.5" width="11.5" height="3" fill="#2b86b3"/>
<rect x="524.34" y="171.6" width="11.5" height="0.9" fill="#5a3c98"/>
<rect x="524.34" y="162" width="11.5" height="9.6" fill="#e07778"/>
<rect x="524.34" y="157.8" width="11.5" height="4.2" fill="#0f4386"/>
<rect x="524.34" y="155.8" width="11.5" height="2" fill="#48098a"/>
<rect x="524.34" y="153.2" width="11.5" height="2.6" fill="#a38ad6"/>
<line x1="530.09" y1="185" x2="530.09" y2="188" stroke="#222" stroke-width="0.9"/>
<text x="532.69" y="191.9" font-size="5.1" text-anchor="end" fill="#111" stroke="#111" stroke-width="0.1" transform="rotate(-45 532.69 191.9)">AC240825_1</text>
<rect x="537.16" y="171" width="11.5" height="14" fill="#7dcdd3"/>
<rect x="537.16" y="169.9" width="11.5" height="1.1" fill="#e78ee6"/>
<rect x="537.16" y="165.3" width="11.5" height="4.6" fill="#b9df8c"/>
<rect x="537.16" y="162.4" width="11.5" height="2.9" fill="#2b86b3"/>
<rect x="537.16" y="156.9" width="11.5" height="5.5" fill="#e07778"/>
<rect x="537.16" y="152.8" width="11.5" height="4.1" fill="#0f4386"/>
<rect x="537.16" y="148" width="11.5" height="4.8" fill="#48098a"/>
<rect x="537.16" y="144" width="11.5" height="4" fill="#7ca0d6"/>
<line x1="542.91" y1="185" x2="542.91" y2="188" stroke="#222" stroke-width="0.9"/>
<text x="545.51" y="191.9" font-size="5.1" text-anchor="end" fill="#111" stroke="#111" stroke-width="0.1" transform="rotate(-45 545.51 191.9)">AC240825_3</text>
<rect x="549.98" y="182.8" width="11.5" height="2.2" fill="#7dcdd3"/>
<rect x="549.98" y="180.8" width="11.5" height="2" fill="#b9df8c"/>
<rect x="549.98" y="178.2" width="11.5" height="2.6" fill="#e07778"/>
<rect x="549.98" y="175.9" width="11.5" height="2.3" fill="#5a3c98"/>
<line x1="555.73" y1="185" x2="555.73" y2="188" stroke="#222" stroke-width="0.9"/>
<text x="558.33" y="191.9" font-size="5.1" text-anchor="end" fill="#111" stroke="#111" stroke-width="0.1" transform="rotate(-45 558.33 191.9)">AC240825_5</text>
<rect x="562.8" y="179.1" width="11.5" height="5.9" fill="#7dcdd3"/>
<rect x="562.8" y="178.2" width="11.5" height="0.9" fill="#e78ee6"/>
<rect x="562.8" y="175.9" width="11.5" height="2.3" fill="#2b86b3"/>
<rect x="562.8" y="172.9" width="11.5" height="3" fill="#e07778"/>
<rect x="562.8" y="171" width="11.5" height="1.9" fill="#0f4386"/>
<line x1="568.55" y1="185" x2="568.55" y2="188" stroke="#222" stroke-width="0.9"/>
<text x="571.15" y="191.9" font-size="5.1" text-anchor="end" fill="#111" stroke="#111" stroke-width="0.1" transform="rotate(-45 571.15 191.9)">AC240825_6</text>
<rect x="575.62" y="167" width="11.5" height="18" fill="#7dcdd3"/>
<rect x="575.62" y="165.7" width="11.5" height="1.3" fill="#a38ad6"/>
<rect x="575.62" y="151.9" width="11.5" height="13.8" fill="#b9df8c"/>
<rect x="575.62" y="151.4" width="11.5" height="0.5" fill="#2b86b3"/>
<rect x="575.62" y="144.4" width="11.5" height="7" fill="#e07778"/>
<rect x="575.62" y="143.7" width="11.5" height="0.7" fill="#82a36c"/>
<rect x="575.62" y="132.6" width="11.5" height="11.1" fill="#0f4386"/>
<rect x="575.62" y="124.7" width="11.5" height="7.9" fill="#48098a"/>
<rect x="575.62" y="123.9" width="11.5" height="0.8" fill="#850c3e"/>
<rect x="575.62" y="121" width="11.5" height="2.9" fill="#7ca0d6"/>
<line x1="581.37" y1="185" x2="581.37" y2="188" stroke="#222" stroke-width="0.9"/>
<text x="583.97" y="191.9" font-size="5.1" text-anchor="end" fill="#111" stroke="#111" stroke-width="0.1" transform="rotate(-45 583.97 191.9)">AC240825_9</text>
<rect x="588.44" y="178.6" width="11.5" height="6.4" fill="#7dcdd3"/>
<rect x="588.44" y="175.9" width="11.5" height="2.7" fill="#e07778"/>
<rect x="588.44" y="174.2" width="11.5" height="1.7" fill="#0f4386"/>
<line x1="594.19" y1="185" x2="594.19" y2="188" stroke="#222" stroke-width="0.9"/>
<text x="596.79" y="191.9" font-size="5.1" text-anchor="end" fill="#111" stroke="#111" stroke-width="0.1" transform="rotate(-45 596.79 191.9)">AC240825_10</text>
<line x1="366.6" y1="185" x2="368.7" y2="185" stroke="#222" stroke-width="0.8"/>
<text x="366.3" y="186.6" font-size="4.5" text-anchor="end" fill="#1a1a1a" stroke="#1a1a1a" stroke-width="0.2" transform="matrix(1 0 0 1.1 0 -18.66)">0</text>
<line x1="366.6" y1="163.2" x2="368.7" y2="163.2" stroke="#222" stroke-width="0.8"/>
<text x="366.3" y="164.8" font-size="4.5" text-anchor="end" fill="#1a1a1a" stroke="#1a1a1a" stroke-width="0.2" transform="matrix(1 0 0 1.1 0 -16.48)">2</text>
<line x1="366.6" y1="141.4" x2="368.7" y2="141.4" stroke="#222" stroke-width="0.8"/>
<text x="366.3" y="143" font-size="4.5" text-anchor="end" fill="#1a1a1a" stroke="#1a1a1a" stroke-width="0.2" transform="matrix(1 0 0 1.1 0 -14.3)">4</text>
<line x1="366.6" y1="119.6" x2="368.7" y2="119.6" stroke="#222" stroke-width="0.8"/>
<text x="366.3" y="121.2" font-size="4.5" text-anchor="end" fill="#1a1a1a" stroke="#1a1a1a" stroke-width="0.2" transform="matrix(1 0 0 1.1 0 -12.12)">6</text>
<line x1="366.6" y1="97.8" x2="368.7" y2="97.8" stroke="#222" stroke-width="0.8"/>
<text x="366.3" y="99.4" font-size="4.5" text-anchor="end" fill="#1a1a1a" stroke="#1a1a1a" stroke-width="0.2" transform="matrix(1 0 0 1.1 0 -9.94)">8</text>
<line x1="366.6" y1="76" x2="368.7" y2="76" stroke="#222" stroke-width="0.8"/>
<text x="366.3" y="77.6" font-size="4.5" text-anchor="end" fill="#1a1a1a" stroke="#1a1a1a" stroke-width="0.2" transform="matrix(1 0 0 1.1 0 -7.76)">10</text>
<line x1="366.6" y1="54.2" x2="368.7" y2="54.2" stroke="#222" stroke-width="0.8"/>
<text x="366.3" y="55.8" font-size="4.5" text-anchor="end" fill="#1a1a1a" stroke="#1a1a1a" stroke-width="0.2" transform="matrix(1 0 0 1.1 0 -5.58)">12</text>
<line x1="366.6" y1="32.4" x2="368.7" y2="32.4" stroke="#222" stroke-width="0.8"/>
<text x="366.3" y="34" font-size="4.5" text-anchor="end" fill="#1a1a1a" stroke="#1a1a1a" stroke-width="0.2" transform="matrix(1 0 0 1.1 0 -3.4)">14</text>
<text x="356.3" y="107" font-size="5.75" text-anchor="middle" fill="#111" stroke="#111" stroke-width="0.1" transform="rotate(-90 356.3 107)">Abundance of VFG categories (copies/cell)</text>
<text x="484.6" y="222.8" font-size="6.2" text-anchor="middle" fill="#111" transform="matrix(1 0 0 1.1 0 -22.28)">Sample ID</text>
<rect x="368.7" y="13.3" width="56.9" height="102.8" fill="#fff" stroke="#9a9a9a" stroke-width="0.7"/>
<line x1="383.5" y1="17.5" x2="383.5" y2="108.5" stroke="#555" stroke-width="0.9"/>
<line x1="383.5" y1="108.5" x2="419" y2="108.5" stroke="#555" stroke-width="0.9"/>
<line x1="381.6" y1="108.5" x2="383.5" y2="108.5" stroke="#555" stroke-width="0.8"/>
<text x="381" y="109.7" font-size="3.3" text-anchor="end" fill="#1a1a1a" stroke="#1a1a1a" stroke-width="0.2" transform="matrix(1 0 0 1.1 0 -10.97)">0</text>
<line x1="382.3" y1="99.4" x2="383.5" y2="99.4" stroke="#555" stroke-width="0.8"/>
<line x1="381.6" y1="90.3" x2="383.5" y2="90.3" stroke="#555" stroke-width="0.8"/>
<text x="381" y="91.5" font-size="3.3" text-anchor="end" fill="#1a1a1a" stroke="#1a1a1a" stroke-width="0.2" transform="matrix(1 0 0 1.1 0 -9.15)">2</text>
<line x1="382.3" y1="81.2" x2="383.5" y2="81.2" stroke="#555" stroke-width="0.8"/>
<line x1="381.6" y1="72.1" x2="383.5" y2="72.1" stroke="#555" stroke-width="0.8"/>
<text x="381" y="73.3" font-size="3.3" text-anchor="end" fill="#1a1a1a" stroke="#1a1a1a" stroke-width="0.2" transform="matrix(1 0 0 1.1 0 -7.33)">4</text>
<line x1="382.3" y1="63" x2="383.5" y2="63" stroke="#555" stroke-width="0.8"/>
<line x1="381.6" y1="53.9" x2="383.5" y2="53.9" stroke="#555" stroke-width="0.8"/>
<text x="381" y="55.1" font-size="3.3" text-anchor="end" fill="#1a1a1a" stroke="#1a1a1a" stroke-width="0.2" transform="matrix(1 0 0 1.1 0 -5.51)">6</text>
<line x1="382.3" y1="44.8" x2="383.5" y2="44.8" stroke="#555" stroke-width="0.8"/>
<line x1="381.6" y1="35.7" x2="383.5" y2="35.7" stroke="#555" stroke-width="0.8"/>
<text x="381" y="36.9" font-size="3.3" text-anchor="end" fill="#1a1a1a" stroke="#1a1a1a" stroke-width="0.2" transform="matrix(1 0 0 1.1 0 -3.69)">8</text>
<line x1="382.3" y1="26.6" x2="383.5" y2="26.6" stroke="#555" stroke-width="0.8"/>
<line x1="381.6" y1="17.5" x2="383.5" y2="17.5" stroke="#555" stroke-width="0.8"/>
<text x="381" y="18.7" font-size="3.3" text-anchor="end" fill="#1a1a1a" stroke="#1a1a1a" stroke-width="0.2" transform="matrix(1 0 0 1.1 0 -1.87)">10</text>
<rect x="384.8" y="105.5" width="10.3" height="3" fill="#7dcdd3"/>
<rect x="384.8" y="104.4" width="10.3" height="1.1" fill="#e78ee6"/>
<rect x="384.8" y="102.5" width="10.3" height="1.9" fill="#b9df8c"/>
<rect x="384.8" y="98.9" width="10.3" height="3.6" fill="#e07778"/>
<rect x="384.8" y="97.4" width="10.3" height="1.5" fill="#0f4386"/>
<rect x="384.8" y="94.9" width="10.3" height="2.5" fill="#48098a"/>
<line x1="389.95" y1="108.5" x2="389.95" y2="110" stroke="#333" stroke-width="0.5"/>
<text x="389.95" y="112.8" font-size="3.3" text-anchor="middle" fill="#1a1a1a" stroke="#1a1a1a" stroke-width="0.2" transform="matrix(1 0 0 1.1 0 -11.28)">Rural_SY</text>
<text x="389.95" y="20" font-size="5.0" text-anchor="middle" fill="#1a1a1a" stroke="#1a1a1a" stroke-width="0.2" transform="matrix(1 0 0 1.1 0 -2)">b</text>
<rect x="396.6" y="91.9" width="10.2" height="16.6" fill="#7dcdd3"/>
<rect x="396.6" y="90" width="10.2" height="1.9" fill="#a38ad6"/>
<rect x="396.6" y="88.1" width="10.2" height="1.9" fill="#e78ee6"/>
<rect x="396.6" y="73.3" width="10.2" height="14.8" fill="#b9df8c"/>
<rect x="396.6" y="70.7" width="10.2" height="2.6" fill="#2b86b3"/>
<rect x="396.6" y="54.2" width="10.2" height="16.5" fill="#e07778"/>
<rect x="396.6" y="39" width="10.2" height="15.2" fill="#0f4386"/>
<rect x="396.6" y="27.2" width="10.2" height="11.8" fill="#48098a"/>
<rect x="396.6" y="25.9" width="10.2" height="1.3" fill="#850c3e"/>
<rect x="396.6" y="21.2" width="10.2" height="4.7" fill="#7ca0d6"/>
<line x1="401.7" y1="108.5" x2="401.7" y2="110" stroke="#333" stroke-width="0.5"/>
<text x="401.7" y="112.8" font-size="3.3" text-anchor="middle" fill="#1a1a1a" stroke="#1a1a1a" stroke-width="0.2" transform="matrix(1 0 0 1.1 0 -11.28)">Rural_YJ</text>
<text x="401.7" y="20" font-size="5.0" text-anchor="middle" fill="#1a1a1a" stroke="#1a1a1a" stroke-width="0.2" transform="matrix(1 0 0 1.1 0 -2)">a</text>
<rect x="408" y="100.8" width="10.3" height="7.7" fill="#7dcdd3"/>
<rect x="408" y="99.9" width="10.3" height="0.9" fill="#e78ee6"/>
<rect x="408" y="97.4" width="10.3" height="2.5" fill="#b9df8c"/>
<rect x="408" y="96.5" width="10.3" height="0.9" fill="#2b86b3"/>
<rect x="408" y="92" width="10.3" height="4.5" fill="#e07778"/>
<rect x="408" y="87.5" width="10.3" height="4.5" fill="#0f4386"/>
<rect x="408" y="85.6" width="10.3" height="1.9" fill="#48098a"/>
<rect x="408" y="84.3" width="10.3" height="1.3" fill="#a88fd8"/>
<line x1="413.15" y1="108.5" x2="413.15" y2="110" stroke="#333" stroke-width="0.5"/>
<text x="413.15" y="112.8" font-size="3.3" text-anchor="middle" fill="#1a1a1a" stroke="#1a1a1a" stroke-width="0.2" transform="matrix(1 0 0 1.1 0 -11.28)">Urban</text>
<text x="413.15" y="20" font-size="5.0" text-anchor="middle" fill="#1a1a1a" stroke="#1a1a1a" stroke-width="0.2" transform="matrix(1 0 0 1.1 0 -2)">ab</text>
<text x="376" y="60.5" font-size="4.3" text-anchor="middle" fill="#1a1a1a" stroke="#1a1a1a" stroke-width="0.1" transform="rotate(-90 376 60.5)">Abundance of VFG categories (copies/cell)</text>
<rect x="368.7" y="13.3" width="234.2" height="171.7" fill="none" stroke="#333" stroke-width="0.9"/>
<g>
<circle cx="551.4" cy="46.3" r="24.15" fill="#335225" fill-opacity="0.55"/>
<circle cx="575.4" cy="46.3" r="24.15" fill="#d5824b" fill-opacity="0.55"/>
<circle cx="563.4" cy="67" r="24.15" fill="#6864a2" fill-opacity="0.55"/>
<circle cx="551.4" cy="46.3" r="24.15" fill="none" stroke="#222" stroke-width="0.8"/>
<circle cx="575.4" cy="46.3" r="24.15" fill="none" stroke="#222" stroke-width="0.8"/>
<circle cx="563.4" cy="67" r="24.15" fill="none" stroke="#222" stroke-width="0.8"/>
<text x="543" y="38.4" font-size="3.9" text-anchor="middle" fill="#222" stroke="#222" stroke-width="0.09" transform="matrix(1 0 0 1.1 0 -3.84)">Rural_SY</text>
<text x="541" y="45.5" font-size="3.9" text-anchor="middle" fill="#222" stroke="#222" stroke-width="0.09" transform="matrix(1 0 0 1.1 0 -4.55)">61</text>
<text x="563.6" y="35.2" font-size="3.9" text-anchor="middle" fill="#222" stroke="#222" stroke-width="0.09" transform="matrix(1 0 0 1.1 0 -3.52)">68</text>
<text x="586.4" y="38.4" font-size="3.9" text-anchor="middle" fill="#222" stroke="#222" stroke-width="0.09" transform="matrix(1 0 0 1.1 0 -3.84)">Rural_YJ</text>
<text x="586" y="45.5" font-size="3.9" text-anchor="middle" fill="#222" stroke="#222" stroke-width="0.09" transform="matrix(1 0 0 1.1 0 -4.55)">744</text>
<text x="563.5" y="54.3" font-size="3.9" text-anchor="middle" fill="#222" stroke="#222" stroke-width="0.09" transform="matrix(1 0 0 1.1 0 -5.43)">1077</text>
<text x="547.3" y="64.2" font-size="3.9" text-anchor="middle" fill="#222" stroke="#222" stroke-width="0.09" transform="matrix(1 0 0 1.1 0 -6.42)">88</text>
<text x="578.4" y="64.2" font-size="3.9" text-anchor="middle" fill="#222" stroke="#222" stroke-width="0.09" transform="matrix(1 0 0 1.1 0 -6.42)">884</text>
<text x="563.5" y="78.3" font-size="3.9" text-anchor="middle" fill="#222" stroke="#222" stroke-width="0.09" transform="matrix(1 0 0 1.1 0 -7.83)">298</text>
<text x="563.5" y="84" font-size="3.9" text-anchor="middle" fill="#222" stroke="#222" stroke-width="0.09" transform="matrix(1 0 0 1.1 0 -8.4)">Urban</text>
</g>
<text x="612" y="11.6" font-size="6.7" fill="#111" transform="matrix(1 0 0 1.1 0 -1.16)">VFG category</text>
<rect x="606" y="18.5" width="8.3" height="4" fill="#a88fd8"/>
<text x="617" y="22.7" font-size="6.3" fill="#111" transform="matrix(1 0 0 1.1 0 -2.27)">Stress survival</text>
<rect x="606" y="30.9" width="8.3" height="4" fill="#0b5c38"/>
<text x="617" y="32.3" font-size="6.3" fill="#111" transform="matrix(1 0 0 1.1 0 -3.23)">Post-translational</text>
<text x="617" y="37.9" font-size="6.3" fill="#111" transform="matrix(1 0 0 1.1 0 -3.79)">modification</text>
<rect x="606" y="43.3" width="8.3" height="4" fill="#850c3e"/>
<text x="617" y="47.5" font-size="6.3" fill="#111" transform="matrix(1 0 0 1.1 0 -4.75)">Others</text>
<rect x="606" y="55.7" width="8.3" height="4" fill="#48098a"/>
<text x="617" y="57.1" font-size="6.3" fill="#111" transform="matrix(1 0 0 1.1 0 -5.71)">Nutritional/Metabolic</text>
<text x="617" y="62.7" font-size="6.3" fill="#111" transform="matrix(1 0 0 1.1 0 -6.27)">factor</text>
<rect x="606" y="68.1" width="8.3" height="4" fill="#0f4386"/>
<text x="617" y="72.3" font-size="6.3" fill="#111" transform="matrix(1 0 0 1.1 0 -7.23)">Motility</text>
<rect x="606" y="80.1" width="8.3" height="4" fill="#82a36c"/>
<text x="617" y="84.3" font-size="6.3" fill="#111" transform="matrix(1 0 0 1.1 0 -8.43)">Invasion</text>
<rect x="606" y="92.8" width="8.3" height="4" fill="#e07778"/>
<text x="617" y="97" font-size="6.3" fill="#111" transform="matrix(1 0 0 1.1 0 -9.7)">Immune modulation</text>
<rect x="606" y="105" width="8.3" height="4" fill="#5a3c98"/>
<text x="617" y="109.2" font-size="6.3" fill="#111" transform="matrix(1 0 0 1.1 0 -10.92)">Exotoxin</text>
<rect x="606" y="117.4" width="8.3" height="4" fill="#2b86b3"/>
<text x="617" y="121.6" font-size="6.3" fill="#111" transform="matrix(1 0 0 1.1 0 -12.16)">Exoenzyme</text>
<rect x="606" y="129.6" width="8.3" height="4" fill="#b9df8c"/>
<text x="617" y="133.8" font-size="6.3" fill="#111" transform="matrix(1 0 0 1.1 0 -13.38)">Effector delivery system</text>
<rect x="606" y="142" width="8.3" height="4" fill="#a38ad6"/>
<text x="617" y="143.4" font-size="6.3" fill="#111" transform="matrix(1 0 0 1.1 0 -14.34)">Antimicrobial activity/</text>
<text x="617" y="149" font-size="6.3" fill="#111" transform="matrix(1 0 0 1.1 0 -14.9)">Competitive advantage</text>
<rect x="606" y="154.6" width="8.3" height="4" fill="#7dcdd3"/>
<text x="617" y="158.8" font-size="6.3" fill="#111" transform="matrix(1 0 0 1.1 0 -15.88)">Adherence</text>
<rect x="606" y="166.5" width="8.3" height="4" fill="#7ca0d6"/>
<text x="617" y="170.7" font-size="6.3" fill="#111" transform="matrix(1 0 0 1.1 0 -17.07)">Regulation</text>
<rect x="606" y="179" width="8.3" height="4" fill="#e78ee6"/>
<text x="617" y="183.2" font-size="6.3" fill="#111" transform="matrix(1 0 0 1.1 0 -18.32)">Biofilm</text>
<text x="0.3" y="233.8" font-size="10.4" fill="#111" font-weight="bold" transform="matrix(1 0 0 1.1 0 -23.38)">(b)</text>
<rect x="25" y="226.5" width="72.6" height="9.9" fill="#d9d9d9" stroke="#555" stroke-width="0.7"/>
<text x="61.3" y="233.8" font-size="4.8" text-anchor="middle" fill="#111" stroke="#111" stroke-width="0.2" transform="matrix(1 0 0 1.1 0 -23.38)">Shannon</text>
<rect x="25" y="236.6" width="72.6" height="186.6" fill="none" stroke="#333" stroke-width="0.8"/>
<text x="28" y="242.4" font-size="5.3" fill="#111" stroke="#111" stroke-width="0.12" transform="matrix(1 0 0 1.1 0 -24.24)">P = 0.109</text>
<line x1="23.2" y1="405.4" x2="25" y2="405.4" stroke="#222" stroke-width="0.7"/>
<text x="22.8" y="407.1" font-size="4.7" text-anchor="end" fill="#1a1a1a" stroke="#1a1a1a" stroke-width="0.2" transform="matrix(1 0 0 1.1 0 -40.71)">1</text>
<line x1="23.2" y1="364.25" x2="25" y2="364.25" stroke="#222" stroke-width="0.7"/>
<text x="22.8" y="365.95" font-size="4.7" text-anchor="end" fill="#1a1a1a" stroke="#1a1a1a" stroke-width="0.2" transform="matrix(1 0 0 1.1 0 -36.6)">2</text>
<line x1="23.2" y1="323.1" x2="25" y2="323.1" stroke="#222" stroke-width="0.7"/>
<text x="22.8" y="324.8" font-size="4.7" text-anchor="end" fill="#1a1a1a" stroke="#1a1a1a" stroke-width="0.2" transform="matrix(1 0 0 1.1 0 -32.48)">3</text>
<line x1="23.2" y1="281.95" x2="25" y2="281.95" stroke="#222" stroke-width="0.7"/>
<text x="22.8" y="283.65" font-size="4.7" text-anchor="end" fill="#1a1a1a" stroke="#1a1a1a" stroke-width="0.2" transform="matrix(1 0 0 1.1 0 -28.37)">4</text>
<line x1="23.2" y1="240.8" x2="25" y2="240.8" stroke="#222" stroke-width="0.7"/>
<text x="22.8" y="242.5" font-size="4.7" text-anchor="end" fill="#1a1a1a" stroke="#1a1a1a" stroke-width="0.2" transform="matrix(1 0 0 1.1 0 -24.25)">5</text>
<line x1="38.07" y1="423.2" x2="38.07" y2="425" stroke="#222" stroke-width="0.7"/>
<text x="38.07" y="429.6" font-size="4.7" text-anchor="middle" fill="#1a1a1a" stroke="#1a1a1a" stroke-width="0.2" transform="matrix(1 0 0 1.1 0 -42.96)">Rural_SY</text>
<line x1="61.3" y1="423.2" x2="61.3" y2="425" stroke="#222" stroke-width="0.7"/>
<text x="61.3" y="429.6" font-size="4.7" text-anchor="middle" fill="#1a1a1a" stroke="#1a1a1a" stroke-width="0.2" transform="matrix(1 0 0 1.1 0 -42.96)">Rural_YJ</text>
<line x1="84.53" y1="423.2" x2="84.53" y2="425" stroke="#222" stroke-width="0.7"/>
<text x="84.53" y="429.6" font-size="4.7" text-anchor="middle" fill="#1a1a1a" stroke="#1a1a1a" stroke-width="0.2" transform="matrix(1 0 0 1.1 0 -42.96)">Urban</text>
<line x1="38.07" y1="309.6" x2="38.07" y2="314.2" stroke="#555" stroke-width="0.8"/>
<line x1="38.07" y1="327.6" x2="38.07" y2="337.3" stroke="#555" stroke-width="0.8"/>
<rect x="29.54" y="314.2" width="17.06" height="13.4" fill="#95a58b" stroke="#333" stroke-width="0.6"/>
<line x1="29.54" y1="320.6" x2="46.6" y2="320.6" stroke="#222" stroke-width="1.0"/>
<line x1="61.3" y1="282.6" x2="61.3" y2="286.4" stroke="#555" stroke-width="0.8"/>
<line x1="61.3" y1="291.3" x2="61.3" y2="291.3" stroke="#555" stroke-width="0.8"/>
<rect x="52.77" y="286.4" width="17.06" height="4.9" fill="#e8b597" stroke="#333" stroke-width="0.6"/>
<line x1="52.77" y1="287.6" x2="69.83" y2="287.6" stroke="#222" stroke-width="1.0"/>
<line x1="84.53" y1="286.3" x2="84.53" y2="301.3" stroke="#555" stroke-width="0.8"/>
<line x1="84.53" y1="401.4" x2="84.53" y2="414.2" stroke="#555" stroke-width="0.8"/>
<rect x="76" y="301.3" width="17.06" height="100.1" fill="#aaa7cb" stroke="#333" stroke-width="0.6"/>
<line x1="76" y1="365.4" x2="93.06" y2="365.4" stroke="#222" stroke-width="1.0"/>
<circle cx="38.3" cy="309.6" r="1.45" fill="#1a1a1a"/>
<circle cx="35" cy="314.2" r="1.45" fill="#1a1a1a"/>
<circle cx="39.2" cy="317.5" r="1.45" fill="#1a1a1a"/>
<circle cx="40.7" cy="323.5" r="1.45" fill="#1a1a1a"/>
<circle cx="38.5" cy="329.6" r="1.45" fill="#1a1a1a"/>
<circle cx="38.5" cy="337.3" r="1.45" fill="#1a1a1a"/>
<circle cx="61" cy="282.6" r="1.45" fill="#1a1a1a"/>
<circle cx="59.5" cy="287" r="1.45" fill="#1a1a1a"/>
<circle cx="62.6" cy="287.4" r="1.45" fill="#1a1a1a"/>
<circle cx="58.6" cy="292" r="1.45" fill="#1a1a1a"/>
<circle cx="61" cy="346.4" r="1.45" fill="#1a1a1a"/>
<circle cx="80.6" cy="286" r="1.45" fill="#1a1a1a"/>
<circle cx="83.6" cy="292" r="1.45" fill="#1a1a1a"/>
<circle cx="84" cy="329.8" r="1.45" fill="#1a1a1a"/>
<circle cx="80.2" cy="401" r="1.45" fill="#1a1a1a"/>
<circle cx="84" cy="401" r="1.45" fill="#1a1a1a"/>
<circle cx="87" cy="414.6" r="1.45" fill="#1a1a1a"/>
<polyline points="61.3,248.6 61.3,245.2 84.53,245.2 84.53,248.6" fill="none" stroke="#333" stroke-width="0.6"/>
<text x="72.92" y="243.3" font-size="6.0" text-anchor="middle" fill="#1a1a1a" transform="matrix(1 0 0 1.1 0 -24.33)">ns</text>
<polyline points="38.07,264.3 38.07,260.9 84.53,260.9 84.53,264.3" fill="none" stroke="#333" stroke-width="0.6"/>
<text x="61.3" y="259" font-size="6.0" text-anchor="middle" fill="#1a1a1a" transform="matrix(1 0 0 1.1 0 -25.9)">ns</text>
<polyline points="38.07,279.8 38.07,276.4 61.3,276.4 61.3,279.8" fill="none" stroke="#333" stroke-width="0.6"/>
<text x="49.68" y="274.5" font-size="6.0" text-anchor="middle" fill="#1a1a1a" transform="matrix(1 0 0 1.1 0 -27.45)">ns</text>
<rect x="109.9" y="226.5" width="72.7" height="9.9" fill="#d9d9d9" stroke="#555" stroke-width="0.7"/>
<text x="146.25" y="233.8" font-size="4.8" text-anchor="middle" fill="#111" stroke="#111" stroke-width="0.2" transform="matrix(1 0 0 1.1 0 -23.38)">Simpson</text>
<rect x="109.9" y="236.6" width="72.7" height="186.6" fill="none" stroke="#333" stroke-width="0.8"/>
<text x="112.9" y="242.4" font-size="5.3" fill="#111" stroke="#111" stroke-width="0.12" transform="matrix(1 0 0 1.1 0 -24.24)">P = 0.065</text>
<line x1="108.1" y1="409.4" x2="109.9" y2="409.4" stroke="#222" stroke-width="0.7"/>
<text x="107.7" y="411.1" font-size="4.7" text-anchor="end" fill="#1a1a1a" stroke="#1a1a1a" stroke-width="0.2" transform="matrix(1 0 0 1.1 0 -41.11)">0.4</text>
<line x1="108.1" y1="365" x2="109.9" y2="365" stroke="#222" stroke-width="0.7"/>
<text x="107.7" y="366.7" font-size="4.7" text-anchor="end" fill="#1a1a1a" stroke="#1a1a1a" stroke-width="0.2" transform="matrix(1 0 0 1.1 0 -36.67)">0.6</text>
<line x1="108.1" y1="320.6" x2="109.9" y2="320.6" stroke="#222" stroke-width="0.7"/>
<text x="107.7" y="322.3" font-size="4.7" text-anchor="end" fill="#1a1a1a" stroke="#1a1a1a" stroke-width="0.2" transform="matrix(1 0 0 1.1 0 -32.23)">0.8</text>
<line x1="108.1" y1="276.2" x2="109.9" y2="276.2" stroke="#222" stroke-width="0.7"/>
<text x="107.7" y="277.9" font-size="4.7" text-anchor="end" fill="#1a1a1a" stroke="#1a1a1a" stroke-width="0.2" transform="matrix(1 0 0 1.1 0 -27.79)">1.0</text>
<line x1="122.99" y1="423.2" x2="122.99" y2="425" stroke="#222" stroke-width="0.7"/>
<text x="122.99" y="429.6" font-size="4.7" text-anchor="middle" fill="#1a1a1a" stroke="#1a1a1a" stroke-width="0.2" transform="matrix(1 0 0 1.1 0 -42.96)">Rural_SY</text>
<line x1="146.25" y1="423.2" x2="146.25" y2="425" stroke="#222" stroke-width="0.7"/>
<text x="146.25" y="429.6" font-size="4.7" text-anchor="middle" fill="#1a1a1a" stroke="#1a1a1a" stroke-width="0.2" transform="matrix(1 0 0 1.1 0 -42.96)">Rural_YJ</text>
<line x1="169.51" y1="423.2" x2="169.51" y2="425" stroke="#222" stroke-width="0.7"/>
<text x="169.51" y="429.6" font-size="4.7" text-anchor="middle" fill="#1a1a1a" stroke="#1a1a1a" stroke-width="0.2" transform="matrix(1 0 0 1.1 0 -42.96)">Urban</text>
<line x1="122.99" y1="289" x2="122.99" y2="291.2" stroke="#555" stroke-width="0.8"/>
<line x1="122.99" y1="302.4" x2="122.99" y2="307" stroke="#555" stroke-width="0.8"/>
<rect x="114.44" y="291.2" width="17.08" height="11.2" fill="#95a58b" stroke="#333" stroke-width="0.6"/>
<line x1="114.44" y1="296" x2="131.53" y2="296" stroke="#222" stroke-width="1.0"/>
<line x1="146.25" y1="283.3" x2="146.25" y2="283" stroke="#555" stroke-width="0.8"/>
<line x1="146.25" y1="283.6" x2="146.25" y2="283.6" stroke="#555" stroke-width="0.8"/>
<rect x="137.71" y="283" width="17.08" height="0.6" fill="#e8b597" stroke="#333" stroke-width="0.6"/>
<line x1="137.71" y1="283.3" x2="154.79" y2="283.3" stroke="#222" stroke-width="1.0"/>
<line x1="169.51" y1="282.8" x2="169.51" y2="291.9" stroke="#555" stroke-width="0.8"/>
<line x1="169.51" y1="376.1" x2="169.51" y2="414.6" stroke="#555" stroke-width="0.8"/>
<rect x="160.97" y="291.9" width="17.08" height="84.2" fill="#aaa7cb" stroke="#333" stroke-width="0.6"/>
<line x1="160.97" y1="341.9" x2="178.06" y2="341.9" stroke="#222" stroke-width="1.0"/>
<circle cx="121" cy="289" r="1.45" fill="#1a1a1a"/>
<circle cx="124" cy="289.5" r="1.45" fill="#1a1a1a"/>
<circle cx="127" cy="289.2" r="1.45" fill="#1a1a1a"/>
<circle cx="119.5" cy="290.8" r="1.45" fill="#1a1a1a"/>
<circle cx="124" cy="297.8" r="1.45" fill="#1a1a1a"/>
<circle cx="121" cy="302.5" r="1.45" fill="#1a1a1a"/>
<circle cx="122.5" cy="306.3" r="1.45" fill="#1a1a1a"/>
<circle cx="143" cy="283.3" r="1.45" fill="#1a1a1a"/>
<circle cx="148" cy="283.3" r="1.45" fill="#1a1a1a"/>
<circle cx="141.5" cy="310.7" r="1.45" fill="#1a1a1a"/>
<circle cx="146" cy="310.7" r="1.45" fill="#1a1a1a"/>
<circle cx="170" cy="285" r="1.45" fill="#1a1a1a"/>
<circle cx="172.5" cy="282.8" r="1.45" fill="#1a1a1a"/>
<circle cx="170" cy="310.7" r="1.45" fill="#1a1a1a"/>
<circle cx="166" cy="373" r="1.45" fill="#1a1a1a"/>
<circle cx="167" cy="376.5" r="1.45" fill="#1a1a1a"/>
<circle cx="168.5" cy="414.6" r="1.45" fill="#1a1a1a"/>
<polyline points="146.25,248.6 146.25,245.2 169.51,245.2 169.51,248.6" fill="none" stroke="#333" stroke-width="0.6"/>
<text x="157.88" y="243.3" font-size="6.0" text-anchor="middle" fill="#1a1a1a" transform="matrix(1 0 0 1.1 0 -24.33)">ns</text>
<polyline points="122.99,264.3 122.99,260.9 169.51,260.9 169.51,264.3" fill="none" stroke="#333" stroke-width="0.6"/>
<text x="146.25" y="259" font-size="6.0" text-anchor="middle" fill="#1a1a1a" transform="matrix(1 0 0 1.1 0 -25.9)">ns</text>
<polyline points="122.99,279.8 122.99,276.4 146.25,276.4 146.25,279.8" fill="none" stroke="#333" stroke-width="0.6"/>
<text x="134.62" y="274.5" font-size="6.0" text-anchor="middle" fill="#1a1a1a" transform="matrix(1 0 0 1.1 0 -27.45)">ns</text>
<rect x="204" y="226.5" width="72.6" height="9.9" fill="#d9d9d9" stroke="#555" stroke-width="0.7"/>
<text x="240.3" y="233.8" font-size="4.8" text-anchor="middle" fill="#111" stroke="#111" stroke-width="0.2" transform="matrix(1 0 0 1.1 0 -23.38)">Chao1</text>
<rect x="204" y="236.6" width="72.6" height="186.6" fill="none" stroke="#333" stroke-width="0.8"/>
<text x="207" y="242.4" font-size="5.3" fill="#111" stroke="#111" stroke-width="0.12" transform="matrix(1 0 0 1.1 0 -24.24)">P = 0.007</text>
<line x1="202.2" y1="417.2" x2="204" y2="417.2" stroke="#222" stroke-width="0.7"/>
<text x="201.8" y="418.9" font-size="4.7" text-anchor="end" fill="#1a1a1a" stroke="#1a1a1a" stroke-width="0.2" transform="matrix(1 0 0 1.1 0 -41.89)">0</text>
<line x1="202.2" y1="381.3" x2="204" y2="381.3" stroke="#222" stroke-width="0.7"/>
<text x="201.8" y="383" font-size="4.7" text-anchor="end" fill="#1a1a1a" stroke="#1a1a1a" stroke-width="0.2" transform="matrix(1 0 0 1.1 0 -38.3)">25000</text>
<line x1="202.2" y1="345.4" x2="204" y2="345.4" stroke="#222" stroke-width="0.7"/>
<text x="201.8" y="347.1" font-size="4.7" text-anchor="end" fill="#1a1a1a" stroke="#1a1a1a" stroke-width="0.2" transform="matrix(1 0 0 1.1 0 -34.71)">50000</text>
<line x1="202.2" y1="309.5" x2="204" y2="309.5" stroke="#222" stroke-width="0.7"/>
<text x="201.8" y="311.2" font-size="4.7" text-anchor="end" fill="#1a1a1a" stroke="#1a1a1a" stroke-width="0.2" transform="matrix(1 0 0 1.1 0 -31.12)">75000</text>
<line x1="202.2" y1="273.6" x2="204" y2="273.6" stroke="#222" stroke-width="0.7"/>
<text x="201.8" y="275.3" font-size="4.7" text-anchor="end" fill="#1a1a1a" stroke="#1a1a1a" stroke-width="0.2" transform="matrix(1 0 0 1.1 0 -27.53)">100000</text>
<line x1="202.2" y1="237.7" x2="204" y2="237.7" stroke="#222" stroke-width="0.7"/>
<text x="201.8" y="239.4" font-size="4.7" text-anchor="end" fill="#1a1a1a" stroke="#1a1a1a" stroke-width="0.2" transform="matrix(1 0 0 1.1 0 -23.94)">125000</text>
<line x1="217.07" y1="423.2" x2="217.07" y2="425" stroke="#222" stroke-width="0.7"/>
<text x="217.07" y="429.6" font-size="4.7" text-anchor="middle" fill="#1a1a1a" stroke="#1a1a1a" stroke-width="0.2" transform="matrix(1 0 0 1.1 0 -42.96)">Rural_SY</text>
<line x1="240.3" y1="423.2" x2="240.3" y2="425" stroke="#222" stroke-width="0.7"/>
<text x="240.3" y="429.6" font-size="4.7" text-anchor="middle" fill="#1a1a1a" stroke="#1a1a1a" stroke-width="0.2" transform="matrix(1 0 0 1.1 0 -42.96)">Rural_YJ</text>
<line x1="263.53" y1="423.2" x2="263.53" y2="425" stroke="#222" stroke-width="0.7"/>
<text x="263.53" y="429.6" font-size="4.7" text-anchor="middle" fill="#1a1a1a" stroke="#1a1a1a" stroke-width="0.2" transform="matrix(1 0 0 1.1 0 -42.96)">Urban</text>
<line x1="217.07" y1="409.6" x2="217.07" y2="410.4" stroke="#555" stroke-width="0.8"/>
<line x1="217.07" y1="413.8" x2="217.07" y2="414.6" stroke="#555" stroke-width="0.8"/>
<rect x="208.54" y="410.4" width="17.06" height="3.4" fill="#95a58b" stroke="#333" stroke-width="0.6"/>
<line x1="208.54" y1="412.8" x2="225.6" y2="412.8" stroke="#222" stroke-width="1.0"/>
<line x1="240.3" y1="282.8" x2="240.3" y2="321.4" stroke="#555" stroke-width="0.8"/>
<line x1="240.3" y1="359.4" x2="240.3" y2="408.5" stroke="#555" stroke-width="0.8"/>
<rect x="231.77" y="321.4" width="17.06" height="38" fill="#e8b597" stroke="#333" stroke-width="0.6"/>
<line x1="231.77" y1="352.4" x2="248.83" y2="352.4" stroke="#222" stroke-width="1.0"/>
<line x1="263.53" y1="350.1" x2="263.53" y2="375.2" stroke="#555" stroke-width="0.8"/>
<line x1="263.53" y1="409.3" x2="263.53" y2="413.6" stroke="#555" stroke-width="0.8"/>
<rect x="255" y="375.2" width="17.06" height="34.1" fill="#aaa7cb" stroke="#333" stroke-width="0.6"/>
<line x1="255" y1="395.3" x2="272.06" y2="395.3" stroke="#222" stroke-width="1.0"/>
<circle cx="216" cy="414" r="1.45" fill="#1a1a1a"/>
<circle cx="218" cy="412" r="1.45" fill="#1a1a1a"/>
<circle cx="220" cy="409.3" r="1.45" fill="#1a1a1a"/>
<circle cx="214.5" cy="414.5" r="1.45" fill="#1a1a1a"/>
<circle cx="220.5" cy="413.2" r="1.45" fill="#1a1a1a"/>
<circle cx="241" cy="283" r="1.45" fill="#1a1a1a"/>
<circle cx="237.5" cy="313.3" r="1.45" fill="#1a1a1a"/>
<circle cx="237.5" cy="347.2" r="1.45" fill="#1a1a1a"/>
<circle cx="238.7" cy="357.5" r="1.45" fill="#1a1a1a"/>
<circle cx="240.5" cy="360.4" r="1.45" fill="#1a1a1a"/>
<circle cx="240" cy="408.7" r="1.45" fill="#1a1a1a"/>
<circle cx="266" cy="350" r="1.45" fill="#1a1a1a"/>
<circle cx="259" cy="372.3" r="1.45" fill="#1a1a1a"/>
<circle cx="263" cy="383.4" r="1.45" fill="#1a1a1a"/>
<circle cx="265" cy="407" r="1.45" fill="#1a1a1a"/>
<circle cx="262" cy="410" r="1.45" fill="#1a1a1a"/>
<circle cx="265" cy="413.6" r="1.45" fill="#1a1a1a"/>
<polyline points="240.3,248.6 240.3,245.2 263.53,245.2 263.53,248.6" fill="none" stroke="#333" stroke-width="0.6"/>
<text x="251.92" y="243.3" font-size="6.0" text-anchor="middle" fill="#1a1a1a" transform="matrix(1 0 0 1.1 0 -24.33)">ns</text>
<polyline points="217.07,264.3 217.07,260.9 263.53,260.9 263.53,264.3" fill="none" stroke="#333" stroke-width="0.6"/>
<text x="240.3" y="259" font-size="6.0" text-anchor="middle" fill="#1a1a1a" transform="matrix(1 0 0 1.1 0 -25.9)">ns</text>
<polyline points="217.07,279.8 217.07,276.4 240.3,276.4 240.3,279.8" fill="none" stroke="#333" stroke-width="0.6"/>
<text x="228.68" y="274.5" font-size="6.0" text-anchor="middle" fill="#1a1a1a" transform="matrix(1 0 0 1.1 0 -27.45)">**</text>
<text x="15.6" y="328.3" font-size="6.5" text-anchor="middle" fill="#111" stroke="#111" stroke-width="0.1" transform="rotate(-90 15.6 328.3)">Alpha index</text>
<text x="342.8" y="233.8" font-size="10.4" fill="#111" font-weight="bold" transform="matrix(1 0 0 1.1 0 -23.38)">(f)</text>
<rect x="367.4" y="226.5" width="73.2" height="9.9" fill="#d9d9d9" stroke="#555" stroke-width="0.7"/>
<text x="404" y="233.8" font-size="4.8" text-anchor="middle" fill="#111" stroke="#111" stroke-width="0.2" transform="matrix(1 0 0 1.1 0 -23.38)">Shannon</text>
<rect x="367.4" y="236.6" width="73.2" height="186.6" fill="none" stroke="#333" stroke-width="0.8"/>
<text x="370.4" y="242.4" font-size="5.3" fill="#111" stroke="#111" stroke-width="0.12" transform="matrix(1 0 0 1.1 0 -24.24)">P =  0.019</text>
<line x1="365.6" y1="405.4" x2="367.4" y2="405.4" stroke="#222" stroke-width="0.7"/>
<text x="365.2" y="407.1" font-size="4.7" text-anchor="end" fill="#1a1a1a" stroke="#1a1a1a" stroke-width="0.2" transform="matrix(1 0 0 1.1 0 -40.71)">1</text>
<line x1="365.6" y1="364.25" x2="367.4" y2="364.25" stroke="#222" stroke-width="0.7"/>
<text x="365.2" y="365.95" font-size="4.7" text-anchor="end" fill="#1a1a1a" stroke="#1a1a1a" stroke-width="0.2" transform="matrix(1 0 0 1.1 0 -36.6)">2</text>
<line x1="365.6" y1="323.1" x2="367.4" y2="323.1" stroke="#222" stroke-width="0.7"/>
<text x="365.2" y="324.8" font-size="4.7" text-anchor="end" fill="#1a1a1a" stroke="#1a1a1a" stroke-width="0.2" transform="matrix(1 0 0 1.1 0 -32.48)">3</text>
<line x1="365.6" y1="281.95" x2="367.4" y2="281.95" stroke="#222" stroke-width="0.7"/>
<text x="365.2" y="283.65" font-size="4.7" text-anchor="end" fill="#1a1a1a" stroke="#1a1a1a" stroke-width="0.2" transform="matrix(1 0 0 1.1 0 -28.37)">4</text>
<line x1="365.6" y1="240.8" x2="367.4" y2="240.8" stroke="#222" stroke-width="0.7"/>
<text x="365.2" y="242.5" font-size="4.7" text-anchor="end" fill="#1a1a1a" stroke="#1a1a1a" stroke-width="0.2" transform="matrix(1 0 0 1.1 0 -24.25)">5</text>
<line x1="380.58" y1="423.2" x2="380.58" y2="425" stroke="#222" stroke-width="0.7"/>
<text x="380.58" y="429.6" font-size="4.7" text-anchor="middle" fill="#1a1a1a" stroke="#1a1a1a" stroke-width="0.2" transform="matrix(1 0 0 1.1 0 -42.96)">Rural_SY</text>
<line x1="404" y1="423.2" x2="404" y2="425" stroke="#222" stroke-width="0.7"/>
<text x="404" y="429.6" font-size="4.7" text-anchor="middle" fill="#1a1a1a" stroke="#1a1a1a" stroke-width="0.2" transform="matrix(1 0 0 1.1 0 -42.96)">Rural_YJ</text>
<line x1="427.42" y1="423.2" x2="427.42" y2="425" stroke="#222" stroke-width="0.7"/>
<text x="427.42" y="429.6" font-size="4.7" text-anchor="middle" fill="#1a1a1a" stroke="#1a1a1a" stroke-width="0.2" transform="matrix(1 0 0 1.1 0 -42.96)">Urban</text>
<line x1="380.58" y1="310.5" x2="380.58" y2="315.2" stroke="#555" stroke-width="0.8"/>
<line x1="380.58" y1="328.4" x2="380.58" y2="337.4" stroke="#555" stroke-width="0.8"/>
<rect x="371.97" y="315.2" width="17.2" height="13.2" fill="#95a58b" stroke="#333" stroke-width="0.6"/>
<line x1="371.97" y1="320.9" x2="389.18" y2="320.9" stroke="#222" stroke-width="1.0"/>
<line x1="404" y1="282.8" x2="404" y2="286.8" stroke="#555" stroke-width="0.8"/>
<line x1="404" y1="291.5" x2="404" y2="291.5" stroke="#555" stroke-width="0.8"/>
<rect x="395.4" y="286.8" width="17.2" height="4.7" fill="#e8b597" stroke="#333" stroke-width="0.6"/>
<line x1="395.4" y1="287.6" x2="412.6" y2="287.6" stroke="#222" stroke-width="1.0"/>
<line x1="427.42" y1="286.3" x2="427.42" y2="301.3" stroke="#555" stroke-width="0.8"/>
<line x1="427.42" y1="401.5" x2="427.42" y2="414.4" stroke="#555" stroke-width="0.8"/>
<rect x="418.82" y="301.3" width="17.2" height="100.2" fill="#aaa7cb" stroke="#333" stroke-width="0.6"/>
<line x1="418.82" y1="365.4" x2="436.03" y2="365.4" stroke="#222" stroke-width="1.0"/>
<circle cx="378.3" cy="310.5" r="1.45" fill="#1a1a1a"/>
<circle cx="385.2" cy="314" r="1.45" fill="#1a1a1a"/>
<circle cx="382.9" cy="317.4" r="1.45" fill="#1a1a1a"/>
<circle cx="380.5" cy="323.8" r="1.45" fill="#1a1a1a"/>
<circle cx="379.5" cy="329.6" r="1.45" fill="#1a1a1a"/>
<circle cx="383.5" cy="337.7" r="1.45" fill="#1a1a1a"/>
<circle cx="406.5" cy="282.8" r="1.45" fill="#1a1a1a"/>
<circle cx="401.6" cy="287.5" r="1.45" fill="#1a1a1a"/>
<circle cx="403.2" cy="287.2" r="1.45" fill="#1a1a1a"/>
<circle cx="400.3" cy="292.3" r="1.45" fill="#1a1a1a"/>
<circle cx="403.9" cy="346.5" r="1.45" fill="#1a1a1a"/>
<circle cx="428" cy="286.3" r="1.45" fill="#1a1a1a"/>
<circle cx="429.4" cy="292.3" r="1.45" fill="#1a1a1a"/>
<circle cx="429.9" cy="330.1" r="1.45" fill="#1a1a1a"/>
<circle cx="425.9" cy="401.5" r="1.45" fill="#1a1a1a"/>
<circle cx="428.5" cy="401.5" r="1.45" fill="#1a1a1a"/>
<circle cx="426.8" cy="414.4" r="1.45" fill="#1a1a1a"/>
<polyline points="404,248.6 404,245.2 427.42,245.2 427.42,248.6" fill="none" stroke="#333" stroke-width="0.6"/>
<text x="415.71" y="243.3" font-size="6.0" text-anchor="middle" fill="#1a1a1a" transform="matrix(1 0 0 1.1 0 -24.33)">ns</text>
<polyline points="380.58,264.3 380.58,260.9 427.42,260.9 427.42,264.3" fill="none" stroke="#333" stroke-width="0.6"/>
<text x="404" y="259" font-size="6.0" text-anchor="middle" fill="#1a1a1a" transform="matrix(1 0 0 1.1 0 -25.9)">ns</text>
<polyline points="380.58,279.8 380.58,276.4 404,276.4 404,279.8" fill="none" stroke="#333" stroke-width="0.6"/>
<text x="392.29" y="274.5" font-size="6.0" text-anchor="middle" fill="#1a1a1a" transform="matrix(1 0 0 1.1 0 -27.45)">ns</text>
<rect x="452.6" y="226.5" width="72.5" height="9.9" fill="#d9d9d9" stroke="#555" stroke-width="0.7"/>
<text x="488.85" y="233.8" font-size="4.8" text-anchor="middle" fill="#111" stroke="#111" stroke-width="0.2" transform="matrix(1 0 0 1.1 0 -23.38)">Simpson</text>
<rect x="452.6" y="236.6" width="72.5" height="186.6" fill="none" stroke="#333" stroke-width="0.8"/>
<text x="455.6" y="242.4" font-size="5.3" fill="#111" stroke="#111" stroke-width="0.12" transform="matrix(1 0 0 1.1 0 -24.24)">P =  0.031</text>
<line x1="450.8" y1="409.4" x2="452.6" y2="409.4" stroke="#222" stroke-width="0.7"/>
<text x="450.4" y="411.1" font-size="4.7" text-anchor="end" fill="#1a1a1a" stroke="#1a1a1a" stroke-width="0.2" transform="matrix(1 0 0 1.1 0 -41.11)">0.4</text>
<line x1="450.8" y1="365" x2="452.6" y2="365" stroke="#222" stroke-width="0.7"/>
<text x="450.4" y="366.7" font-size="4.7" text-anchor="end" fill="#1a1a1a" stroke="#1a1a1a" stroke-width="0.2" transform="matrix(1 0 0 1.1 0 -36.67)">0.6</text>
<line x1="450.8" y1="320.6" x2="452.6" y2="320.6" stroke="#222" stroke-width="0.7"/>
<text x="450.4" y="322.3" font-size="4.7" text-anchor="end" fill="#1a1a1a" stroke="#1a1a1a" stroke-width="0.2" transform="matrix(1 0 0 1.1 0 -32.23)">0.8</text>
<line x1="450.8" y1="276.2" x2="452.6" y2="276.2" stroke="#222" stroke-width="0.7"/>
<text x="450.4" y="277.9" font-size="4.7" text-anchor="end" fill="#1a1a1a" stroke="#1a1a1a" stroke-width="0.2" transform="matrix(1 0 0 1.1 0 -27.79)">1.0</text>
<line x1="465.65" y1="423.2" x2="465.65" y2="425" stroke="#222" stroke-width="0.7"/>
<text x="465.65" y="429.6" font-size="4.7" text-anchor="middle" fill="#1a1a1a" stroke="#1a1a1a" stroke-width="0.2" transform="matrix(1 0 0 1.1 0 -42.96)">Rural_SY</text>
<line x1="488.85" y1="423.2" x2="488.85" y2="425" stroke="#222" stroke-width="0.7"/>
<text x="488.85" y="429.6" font-size="4.7" text-anchor="middle" fill="#1a1a1a" stroke="#1a1a1a" stroke-width="0.2" transform="matrix(1 0 0 1.1 0 -42.96)">Rural_YJ</text>
<line x1="512.05" y1="423.2" x2="512.05" y2="425" stroke="#222" stroke-width="0.7"/>
<text x="512.05" y="429.6" font-size="4.7" text-anchor="middle" fill="#1a1a1a" stroke="#1a1a1a" stroke-width="0.2" transform="matrix(1 0 0 1.1 0 -42.96)">Urban</text>
<line x1="465.65" y1="290.4" x2="465.65" y2="291.3" stroke="#555" stroke-width="0.8"/>
<line x1="465.65" y1="302.6" x2="465.65" y2="307.2" stroke="#555" stroke-width="0.8"/>
<rect x="457.13" y="291.3" width="17.04" height="11.3" fill="#95a58b" stroke="#333" stroke-width="0.6"/>
<line x1="457.13" y1="296.3" x2="474.17" y2="296.3" stroke="#222" stroke-width="1.0"/>
<line x1="488.85" y1="283.5" x2="488.85" y2="283.2" stroke="#555" stroke-width="0.8"/>
<line x1="488.85" y1="283.8" x2="488.85" y2="283.8" stroke="#555" stroke-width="0.8"/>
<rect x="480.33" y="283.2" width="17.04" height="0.6" fill="#e8b597" stroke="#333" stroke-width="0.6"/>
<line x1="480.33" y1="283.5" x2="497.37" y2="283.5" stroke="#222" stroke-width="1.0"/>
<line x1="512.05" y1="283" x2="512.05" y2="292.2" stroke="#555" stroke-width="0.8"/>
<line x1="512.05" y1="376.2" x2="512.05" y2="414.6" stroke="#555" stroke-width="0.8"/>
<rect x="503.53" y="292.2" width="17.04" height="84" fill="#aaa7cb" stroke="#333" stroke-width="0.6"/>
<line x1="503.53" y1="342.4" x2="520.57" y2="342.4" stroke="#222" stroke-width="1.0"/>
<circle cx="464.1" cy="290.4" r="1.45" fill="#1a1a1a"/>
<circle cx="469" cy="290.4" r="1.45" fill="#1a1a1a"/>
<circle cx="463.8" cy="292.5" r="1.45" fill="#1a1a1a"/>
<circle cx="463.8" cy="299.4" r="1.45" fill="#1a1a1a"/>
<circle cx="465.5" cy="303.8" r="1.45" fill="#1a1a1a"/>
<circle cx="462.4" cy="307.2" r="1.45" fill="#1a1a1a"/>
<circle cx="486.6" cy="283.5" r="1.45" fill="#1a1a1a"/>
<circle cx="488.7" cy="283.5" r="1.45" fill="#1a1a1a"/>
<circle cx="491" cy="284" r="1.45" fill="#1a1a1a"/>
<circle cx="489.8" cy="311" r="1.45" fill="#1a1a1a"/>
<circle cx="514.4" cy="283" r="1.45" fill="#1a1a1a"/>
<circle cx="515.2" cy="286.5" r="1.45" fill="#1a1a1a"/>
<circle cx="511.4" cy="311" r="1.45" fill="#1a1a1a"/>
<circle cx="508" cy="373.6" r="1.45" fill="#1a1a1a"/>
<circle cx="515.2" cy="377" r="1.45" fill="#1a1a1a"/>
<circle cx="513" cy="414.6" r="1.45" fill="#1a1a1a"/>
<polyline points="488.85,248.6 488.85,245.2 512.05,245.2 512.05,248.6" fill="none" stroke="#333" stroke-width="0.6"/>
<text x="500.45" y="243.3" font-size="6.0" text-anchor="middle" fill="#1a1a1a" transform="matrix(1 0 0 1.1 0 -24.33)">ns</text>
<polyline points="465.65,264.3 465.65,260.9 512.05,260.9 512.05,264.3" fill="none" stroke="#333" stroke-width="0.6"/>
<text x="488.85" y="259" font-size="6.0" text-anchor="middle" fill="#1a1a1a" transform="matrix(1 0 0 1.1 0 -25.9)">ns</text>
<polyline points="465.65,279.8 465.65,276.4 488.85,276.4 488.85,279.8" fill="none" stroke="#333" stroke-width="0.6"/>
<text x="477.25" y="274.5" font-size="6.0" text-anchor="middle" fill="#1a1a1a" transform="matrix(1 0 0 1.1 0 -27.45)">ns</text>
<rect x="547.1" y="226.5" width="72.9" height="9.9" fill="#d9d9d9" stroke="#555" stroke-width="0.7"/>
<text x="583.55" y="233.8" font-size="4.8" text-anchor="middle" fill="#111" stroke="#111" stroke-width="0.2" transform="matrix(1 0 0 1.1 0 -23.38)">Chao1</text>
<rect x="547.1" y="236.6" width="72.9" height="186.6" fill="none" stroke="#333" stroke-width="0.8"/>
<text x="550.1" y="242.4" font-size="5.3" fill="#111" stroke="#111" stroke-width="0.12" transform="matrix(1 0 0 1.1 0 -24.24)">P =  0.012</text>
<line x1="545.3" y1="417.2" x2="547.1" y2="417.2" stroke="#222" stroke-width="0.7"/>
<text x="544.9" y="418.9" font-size="4.7" text-anchor="end" fill="#1a1a1a" stroke="#1a1a1a" stroke-width="0.2" transform="matrix(1 0 0 1.1 0 -41.89)">0</text>
<line x1="545.3" y1="381.3" x2="547.1" y2="381.3" stroke="#222" stroke-width="0.7"/>
<text x="544.9" y="383" font-size="4.7" text-anchor="end" fill="#1a1a1a" stroke="#1a1a1a" stroke-width="0.2" transform="matrix(1 0 0 1.1 0 -38.3)">25000</text>
<line x1="545.3" y1="345.4" x2="547.1" y2="345.4" stroke="#222" stroke-width="0.7"/>
<text x="544.9" y="347.1" font-size="4.7" text-anchor="end" fill="#1a1a1a" stroke="#1a1a1a" stroke-width="0.2" transform="matrix(1 0 0 1.1 0 -34.71)">50000</text>
<line x1="545.3" y1="309.5" x2="547.1" y2="309.5" stroke="#222" stroke-width="0.7"/>
<text x="544.9" y="311.2" font-size="4.7" text-anchor="end" fill="#1a1a1a" stroke="#1a1a1a" stroke-width="0.2" transform="matrix(1 0 0 1.1 0 -31.12)">75000</text>
<line x1="545.3" y1="273.6" x2="547.1" y2="273.6" stroke="#222" stroke-width="0.7"/>
<text x="544.9" y="275.3" font-size="4.7" text-anchor="end" fill="#1a1a1a" stroke="#1a1a1a" stroke-width="0.2" transform="matrix(1 0 0 1.1 0 -27.53)">100000</text>
<line x1="545.3" y1="237.7" x2="547.1" y2="237.7" stroke="#222" stroke-width="0.7"/>
<text x="544.9" y="239.4" font-size="4.7" text-anchor="end" fill="#1a1a1a" stroke="#1a1a1a" stroke-width="0.2" transform="matrix(1 0 0 1.1 0 -23.94)">125000</text>
<line x1="560.22" y1="423.2" x2="560.22" y2="425" stroke="#222" stroke-width="0.7"/>
<text x="560.22" y="429.6" font-size="4.7" text-anchor="middle" fill="#1a1a1a" stroke="#1a1a1a" stroke-width="0.2" transform="matrix(1 0 0 1.1 0 -42.96)">Rural_SY</text>
<line x1="583.55" y1="423.2" x2="583.55" y2="425" stroke="#222" stroke-width="0.7"/>
<text x="583.55" y="429.6" font-size="4.7" text-anchor="middle" fill="#1a1a1a" stroke="#1a1a1a" stroke-width="0.2" transform="matrix(1 0 0 1.1 0 -42.96)">Rural_YJ</text>
<line x1="606.88" y1="423.2" x2="606.88" y2="425" stroke="#222" stroke-width="0.7"/>
<text x="606.88" y="429.6" font-size="4.7" text-anchor="middle" fill="#1a1a1a" stroke="#1a1a1a" stroke-width="0.2" transform="matrix(1 0 0 1.1 0 -42.96)">Urban</text>
<line x1="560.22" y1="408.6" x2="560.22" y2="410.7" stroke="#555" stroke-width="0.8"/>
<line x1="560.22" y1="414.1" x2="560.22" y2="414.6" stroke="#555" stroke-width="0.8"/>
<rect x="551.66" y="410.7" width="17.13" height="3.4" fill="#95a58b" stroke="#333" stroke-width="0.6"/>
<line x1="551.66" y1="412.6" x2="568.79" y2="412.6" stroke="#222" stroke-width="1.0"/>
<line x1="583.55" y1="283" x2="583.55" y2="322" stroke="#555" stroke-width="0.8"/>
<line x1="583.55" y1="359.7" x2="583.55" y2="408.6" stroke="#555" stroke-width="0.8"/>
<rect x="574.98" y="322" width="17.13" height="37.7" fill="#e8b597" stroke="#333" stroke-width="0.6"/>
<line x1="574.98" y1="352.5" x2="592.12" y2="352.5" stroke="#222" stroke-width="1.0"/>
<line x1="606.88" y1="350" x2="606.88" y2="375.1" stroke="#555" stroke-width="0.8"/>
<line x1="606.88" y1="409.4" x2="606.88" y2="413.8" stroke="#555" stroke-width="0.8"/>
<rect x="598.31" y="375.1" width="17.13" height="34.3" fill="#aaa7cb" stroke="#333" stroke-width="0.6"/>
<line x1="598.31" y1="395.1" x2="615.44" y2="395.1" stroke="#222" stroke-width="1.0"/>
<circle cx="559.5" cy="408.6" r="1.45" fill="#1a1a1a"/>
<circle cx="559.5" cy="412" r="1.45" fill="#1a1a1a"/>
<circle cx="557.7" cy="414.5" r="1.45" fill="#1a1a1a"/>
<circle cx="561.5" cy="413.5" r="1.45" fill="#1a1a1a"/>
<circle cx="556" cy="413" r="1.45" fill="#1a1a1a"/>
<circle cx="585.1" cy="283" r="1.45" fill="#1a1a1a"/>
<circle cx="584.2" cy="313.7" r="1.45" fill="#1a1a1a"/>
<circle cx="583.9" cy="347.4" r="1.45" fill="#1a1a1a"/>
<circle cx="583" cy="358" r="1.45" fill="#1a1a1a"/>
<circle cx="585.5" cy="360.4" r="1.45" fill="#1a1a1a"/>
<circle cx="581.3" cy="408.6" r="1.45" fill="#1a1a1a"/>
<circle cx="606.8" cy="350" r="1.45" fill="#1a1a1a"/>
<circle cx="604.2" cy="372.5" r="1.45" fill="#1a1a1a"/>
<circle cx="605.9" cy="383.8" r="1.45" fill="#1a1a1a"/>
<circle cx="602.4" cy="407.7" r="1.45" fill="#1a1a1a"/>
<circle cx="606.4" cy="410.3" r="1.45" fill="#1a1a1a"/>
<circle cx="605" cy="413.8" r="1.45" fill="#1a1a1a"/>
<polyline points="583.55,248.6 583.55,245.2 606.88,245.2 606.88,248.6" fill="none" stroke="#333" stroke-width="0.6"/>
<text x="595.21" y="243.3" font-size="6.0" text-anchor="middle" fill="#1a1a1a" transform="matrix(1 0 0 1.1 0 -24.33)">ns</text>
<polyline points="560.22,264.3 560.22,260.9 606.88,260.9 606.88,264.3" fill="none" stroke="#333" stroke-width="0.6"/>
<text x="583.55" y="259" font-size="6.0" text-anchor="middle" fill="#1a1a1a" transform="matrix(1 0 0 1.1 0 -25.9)">ns</text>
<polyline points="560.22,279.8 560.22,276.4 583.55,276.4 583.55,279.8" fill="none" stroke="#333" stroke-width="0.6"/>
<text x="571.89" y="274.5" font-size="6.0" text-anchor="middle" fill="#1a1a1a" transform="matrix(1 0 0 1.1 0 -27.45)">**</text>
<text x="358.1" y="328.3" font-size="6.5" text-anchor="middle" fill="#111" stroke="#111" stroke-width="0.1" transform="rotate(-90 358.1 328.3)">Alpha index</text>
<text x="0" y="451.2" font-size="10.4" fill="#111" font-weight="bold" transform="matrix(1 0 0 1.1 0 -45.12)">(c)</text>
<clipPath id="clipc"><rect x="26.7" y="448.0" width="249.3" height="179.0"/></clipPath>
<g clip-path="url(#clipc)">
<line x1="121.2" y1="448" x2="121.2" y2="627" stroke="#b0b0b0" stroke-width="0.85" stroke-dasharray="2.4,1.9"/>
<line x1="26.7" y1="535.8" x2="276" y2="535.8" stroke="#b0b0b0" stroke-width="0.85" stroke-dasharray="2.4,1.9"/>
<circle cx="94.9" cy="475" r="3.4" fill="#435f42"/>
<circle cx="104.1" cy="504.5" r="3.4" fill="#435f42"/>
<circle cx="103.7" cy="511.7" r="3.4" fill="#435f42"/>
<circle cx="95.3" cy="526.3" r="3.4" fill="#435f42"/>
<circle cx="137.3" cy="520.7" r="3.4" fill="#435f42"/>
<circle cx="119.3" cy="549.2" r="3.4" fill="#435f42"/>
<rect x="116.2" y="511.8" width="6.2" height="6.2" fill="#776ea9"/>
<rect x="96.4" y="540" width="6.2" height="6.2" fill="#776ea9"/>
<rect x="100.6" y="552.5" width="6.2" height="6.2" fill="#776ea9"/>
<rect x="176.4" y="518.8" width="6.2" height="6.2" fill="#776ea9"/>
<rect x="188.9" y="536.2" width="6.2" height="6.2" fill="#776ea9"/>
<rect x="189.6" y="540.5" width="6.2" height="6.2" fill="#776ea9"/>
<polygon points="107.4,508.1 103.3,515 111.5,515" fill="#ea824e"/>
<polygon points="106.8,541.3 102.7,548.2 110.9,548.2" fill="#ea824e"/>
<polygon points="108.2,545.5 104.1,552.4 112.3,552.4" fill="#ea824e"/>
<polygon points="103.7,567.7 99.6,574.6 107.8,574.6" fill="#ea824e"/>
<polygon points="104.1,573.3 100,580.2 108.2,580.2" fill="#ea824e"/>
<polygon points="106.8,577.1 102.7,584 110.9,584" fill="#ea824e"/>
<ellipse cx="0" cy="0" rx="60.2" ry="27.9" transform="translate(107.2 513.4) rotate(67.9)" fill="#e6aa6e" fill-opacity="0.2" stroke="#4a5a3a" stroke-width="0.85" stroke-dasharray="2.4,1.6"/>
<ellipse cx="0" cy="0" rx="60.4" ry="4.4" transform="translate(105.8 558.6) rotate(-88.2)" fill="#5ab48c" fill-opacity="0.2" stroke="#e07a4a" stroke-width="0.85" stroke-dasharray="2.4,1.6"/>
<ellipse cx="0" cy="0" rx="114.5" ry="34.6" transform="translate(148.9 537.1) rotate(-3.3)" fill="#c86e96" fill-opacity="0.2" stroke="#4a4a9a" stroke-width="0.85" stroke-dasharray="2.4,1.6"/>
</g>
<rect x="26.7" y="448.0" width="249.3" height="179.0" fill="none" stroke="#333" stroke-width="0.9"/>
<line x1="24.9" y1="483.9" x2="26.7" y2="483.9" stroke="#333" stroke-width="0.6"/>
<text x="24.1" y="486.4" font-size="7.0" text-anchor="end" fill="#1a1a1a" transform="matrix(1 0 0 1.1 0 -48.64)">0.4</text>
<line x1="24.9" y1="536" x2="26.7" y2="536" stroke="#333" stroke-width="0.6"/>
<text x="24.1" y="538.5" font-size="7.0" text-anchor="end" fill="#1a1a1a" transform="matrix(1 0 0 1.1 0 -53.85)">0.0</text>
<line x1="24.9" y1="588" x2="26.7" y2="588" stroke="#333" stroke-width="0.6"/>
<text x="24.1" y="590.5" font-size="7.0" text-anchor="end" fill="#1a1a1a" transform="matrix(1 0 0 1.1 0 -59.05)">−0.4</text>
<line x1="63.6" y1="627" x2="63.6" y2="628.8" stroke="#333" stroke-width="0.6"/>
<text x="63.6" y="635.5" font-size="7.0" text-anchor="middle" fill="#1a1a1a" transform="matrix(1 0 0 1.1 0 -63.55)">−0.5</text>
<line x1="121.2" y1="627" x2="121.2" y2="628.8" stroke="#333" stroke-width="0.6"/>
<text x="121.2" y="635.5" font-size="7.0" text-anchor="middle" fill="#1a1a1a" transform="matrix(1 0 0 1.1 0 -63.55)">0.0</text>
<line x1="179" y1="627" x2="179" y2="628.8" stroke="#333" stroke-width="0.6"/>
<text x="179" y="635.5" font-size="7.0" text-anchor="middle" fill="#1a1a1a" transform="matrix(1 0 0 1.1 0 -63.55)">0.5</text>
<line x1="237.3" y1="627" x2="237.3" y2="628.8" stroke="#333" stroke-width="0.6"/>
<text x="237.3" y="635.5" font-size="7.0" text-anchor="middle" fill="#1a1a1a" transform="matrix(1 0 0 1.1 0 -63.55)">1.0</text>
<rect x="229.9" y="449.6" width="10.4" height="10.2" fill="#fff" stroke="#1a1a1a" stroke-width="0.9"/>
<circle cx="235.1" cy="454.7" r="3.4" fill="#435f42"/>
<rect x="230.5" y="450.2" width="9.2" height="9" fill="#e6aa6e" stroke="#4a5a3a" stroke-width="0.7" fill-opacity="0.2" stroke-dasharray="1.6,1.2"/>
<text x="243.3" y="457.2" font-size="7.0" fill="#111" transform="matrix(1 0 0 1.1 0 -45.72)">Rural_SY</text>
<rect x="229.9" y="459.8" width="10.4" height="10.2" fill="#fff" stroke="#1a1a1a" stroke-width="0.9"/>
<polygon points="235.1,460.8 230.7,468.3 239.5,468.3" fill="#ea824e"/>
<rect x="230.5" y="460.4" width="9.2" height="9" fill="#5ab48c" stroke="#e07a4a" stroke-width="0.7" fill-opacity="0.2" stroke-dasharray="1.6,1.2"/>
<text x="243.3" y="467.4" font-size="7.0" fill="#111" transform="matrix(1 0 0 1.1 0 -46.74)">Rural_YJ</text>
<rect x="229.9" y="470" width="10.4" height="10.2" fill="#fff" stroke="#1a1a1a" stroke-width="0.9"/>
<rect x="231.6" y="471.6" width="7" height="7" fill="#776ea9"/>
<rect x="230.5" y="470.6" width="9.2" height="9" fill="#c86e96" stroke="#4a4a9a" stroke-width="0.7" fill-opacity="0.2" stroke-dasharray="1.6,1.2"/>
<text x="243.3" y="477.6" font-size="7.0" fill="#111" transform="matrix(1 0 0 1.1 0 -47.76)">Urban</text>
<text x="226.9" y="589.6" font-size="7.1" fill="#111" transform="matrix(1 0 0 1.1 0 -58.96)">Stress = 0.087</text>
<text x="226.9" y="598.15" font-size="7.1" fill="#111" transform="matrix(1 0 0 1.1 0 -59.82)">Adonis:</text>
<text x="226.9" y="606.7" font-size="7.1" fill="#111" transform="matrix(1 0 0 1.1 0 -60.67)">R² = 0.292</text>
<text x="226.9" y="615.25" font-size="7.1" fill="#111" transform="matrix(1 0 0 1.1 0 -61.53)">F = 3.093</text>
<text x="226.9" y="623.8" font-size="7.1" fill="#111" transform="matrix(1 0 0 1.1 0 -62.38)">P = 0.001</text>
<text x="9.6" y="534.6" font-size="8.1" text-anchor="middle" fill="#111" stroke="#111" stroke-width="0.1" transform="rotate(-90 9.6 534.6)">NMDS 2</text>
<text x="152.2" y="644.9" font-size="8.1" text-anchor="middle" fill="#111" transform="matrix(1 0 0 1.1 0 -64.49)">NMDS 1</text>
<text x="342" y="451.2" font-size="10.4" fill="#111" font-weight="bold" transform="matrix(1 0 0 1.1 0 -45.12)">(g)</text>
<clipPath id="clipg"><rect x="373.5" y="449.6" width="246.0" height="176.10000000000002"/></clipPath>
<g clip-path="url(#clipg)">
<line x1="494.5" y1="449.6" x2="494.5" y2="625.7" stroke="#b0b0b0" stroke-width="0.85" stroke-dasharray="2.4,1.9"/>
<line x1="373.5" y1="533.2" x2="619.5" y2="533.2" stroke="#b0b0b0" stroke-width="0.85" stroke-dasharray="2.4,1.9"/>
<circle cx="441.2" cy="477.8" r="3.4" fill="#435f42"/>
<circle cx="442.3" cy="517.3" r="3.4" fill="#435f42"/>
<circle cx="488.9" cy="515.9" r="3.4" fill="#435f42"/>
<circle cx="424" cy="531.9" r="3.4" fill="#435f42"/>
<circle cx="464.2" cy="556.3" r="3.4" fill="#435f42"/>
<circle cx="504.5" cy="553.8" r="3.4" fill="#435f42"/>
<rect x="445.4" y="500.3" width="6.2" height="6.2" fill="#776ea9"/>
<rect x="471.6" y="524" width="6.2" height="6.2" fill="#776ea9"/>
<rect x="454.5" y="561.6" width="6.2" height="6.2" fill="#776ea9"/>
<rect x="450.1" y="578.8" width="6.2" height="6.2" fill="#776ea9"/>
<rect x="513.1" y="554.2" width="6.2" height="6.2" fill="#776ea9"/>
<rect x="536.5" y="511.2" width="6.2" height="6.2" fill="#776ea9"/>
<polygon points="481.9,544.7 477.8,551.6 486,551.6" fill="#ea824e"/>
<polygon points="535.6,526 531.5,532.9 539.7,532.9" fill="#ea824e"/>
<polygon points="543.5,531.9 539.4,538.8 547.6,538.8" fill="#ea824e"/>
<polygon points="559.4,510.8 555.3,517.7 563.5,517.7" fill="#ea824e"/>
<polygon points="564.1,519 560,525.9 568.2,525.9" fill="#ea824e"/>
<polygon points="559,535.4 554.9,542.3 563.1,542.3" fill="#ea824e"/>
<ellipse cx="0" cy="0" rx="85.3" ry="54.8" transform="translate(460.7 526.8) rotate(37.6)" fill="#e6aa6e" fill-opacity="0.2" stroke="#4a5a3a" stroke-width="0.85" stroke-dasharray="2.4,1.6"/>
<ellipse cx="0" cy="0" rx="65.9" ry="17.8" transform="translate(543.0 531.5) rotate(-18.6)" fill="#5ab48c" fill-opacity="0.2" stroke="#e07a4a" stroke-width="0.85" stroke-dasharray="2.4,1.6"/>
<ellipse cx="0" cy="0" rx="91.2" ry="68.3" transform="translate(480.1 542.7) rotate(-25.8)" fill="#c86e96" fill-opacity="0.2" stroke="#4a4a9a" stroke-width="0.85" stroke-dasharray="2.4,1.6"/>
</g>
<rect x="373.5" y="449.6" width="246.0" height="176.10000000000002" fill="none" stroke="#333" stroke-width="0.9"/>
<line x1="371.7" y1="487.7" x2="373.5" y2="487.7" stroke="#333" stroke-width="0.6"/>
<text x="370.9" y="490.2" font-size="7.0" text-anchor="end" fill="#1a1a1a" transform="matrix(1 0 0 1.1 0 -49.02)">0.3</text>
<line x1="371.7" y1="533.2" x2="373.5" y2="533.2" stroke="#333" stroke-width="0.6"/>
<text x="370.9" y="535.7" font-size="7.0" text-anchor="end" fill="#1a1a1a" transform="matrix(1 0 0 1.1 0 -53.57)">0.0</text>
<line x1="371.7" y1="578.6" x2="373.5" y2="578.6" stroke="#333" stroke-width="0.6"/>
<text x="370.9" y="581.1" font-size="7.0" text-anchor="end" fill="#1a1a1a" transform="matrix(1 0 0 1.1 0 -58.11)">−0.3</text>
<line x1="371.7" y1="624.2" x2="373.5" y2="624.2" stroke="#333" stroke-width="0.6"/>
<text x="370.9" y="626.7" font-size="7.0" text-anchor="end" fill="#1a1a1a" transform="matrix(1 0 0 1.1 0 -62.67)">−0.6</text>
<line x1="377.5" y1="625.7" x2="377.5" y2="627.5" stroke="#333" stroke-width="0.6"/>
<text x="377.5" y="634.2" font-size="7.0" text-anchor="middle" fill="#1a1a1a" transform="matrix(1 0 0 1.1 0 -63.42)">−0.8</text>
<line x1="436" y1="625.7" x2="436" y2="627.5" stroke="#333" stroke-width="0.6"/>
<text x="436" y="634.2" font-size="7.0" text-anchor="middle" fill="#1a1a1a" transform="matrix(1 0 0 1.1 0 -63.42)">−0.4</text>
<line x1="494.5" y1="625.7" x2="494.5" y2="627.5" stroke="#333" stroke-width="0.6"/>
<text x="494.5" y="634.2" font-size="7.0" text-anchor="middle" fill="#1a1a1a" transform="matrix(1 0 0 1.1 0 -63.42)">0.0</text>
<line x1="553.3" y1="625.7" x2="553.3" y2="627.5" stroke="#333" stroke-width="0.6"/>
<text x="553.3" y="634.2" font-size="7.0" text-anchor="middle" fill="#1a1a1a" transform="matrix(1 0 0 1.1 0 -63.42)">0.4</text>
<line x1="611.9" y1="625.7" x2="611.9" y2="627.5" stroke="#333" stroke-width="0.6"/>
<text x="611.9" y="634.2" font-size="7.0" text-anchor="middle" fill="#1a1a1a" transform="matrix(1 0 0 1.1 0 -63.42)">0.8</text>
<rect x="572.2" y="452.2" width="10.4" height="10.2" fill="#fff" stroke="#1a1a1a" stroke-width="0.9"/>
<circle cx="577.4" cy="457.3" r="3.4" fill="#435f42"/>
<rect x="572.8" y="452.8" width="9.2" height="9" fill="#e6aa6e" stroke="#4a5a3a" stroke-width="0.7" fill-opacity="0.2" stroke-dasharray="1.6,1.2"/>
<text x="585.6" y="459.8" font-size="7.0" fill="#111" transform="matrix(1 0 0 1.1 0 -45.98)">Rural_SY</text>
<rect x="572.2" y="462.4" width="10.4" height="10.2" fill="#fff" stroke="#1a1a1a" stroke-width="0.9"/>
<polygon points="577.4,463.4 573,470.9 581.8,470.9" fill="#ea824e"/>
<rect x="572.8" y="463" width="9.2" height="9" fill="#5ab48c" stroke="#e07a4a" stroke-width="0.7" fill-opacity="0.2" stroke-dasharray="1.6,1.2"/>
<text x="585.6" y="470" font-size="7.0" fill="#111" transform="matrix(1 0 0 1.1 0 -47)">Rural_YJ</text>
<rect x="572.2" y="472.6" width="10.4" height="10.2" fill="#fff" stroke="#1a1a1a" stroke-width="0.9"/>
<rect x="573.9" y="474.2" width="7" height="7" fill="#776ea9"/>
<rect x="572.8" y="473.2" width="9.2" height="9" fill="#c86e96" stroke="#4a4a9a" stroke-width="0.7" fill-opacity="0.2" stroke-dasharray="1.6,1.2"/>
<text x="585.6" y="480.2" font-size="7.0" fill="#111" transform="matrix(1 0 0 1.1 0 -48.02)">Urban</text>
<text x="570.6" y="588.3" font-size="7.1" fill="#111" transform="matrix(1 0 0 1.1 0 -58.83)">Stress = 0.087</text>
<text x="570.6" y="596.85" font-size="7.1" fill="#111" transform="matrix(1 0 0 1.1 0 -59.69)">Adonis:</text>
<text x="570.6" y="605.4" font-size="7.1" fill="#111" transform="matrix(1 0 0 1.1 0 -60.54)">R² = 0.291</text>
<text x="570.6" y="613.95" font-size="7.1" fill="#111" transform="matrix(1 0 0 1.1 0 -61.4)">F = 3.082</text>
<text x="570.6" y="622.5" font-size="7.1" fill="#111" transform="matrix(1 0 0 1.1 0 -62.25)">P = 0.005</text>
<text x="354.4" y="534.3" font-size="8.1" text-anchor="middle" fill="#111" stroke="#111" stroke-width="0.1" transform="rotate(-90 354.4 534.3)">NMDS 2</text>
<text x="499.4" y="644.3" font-size="8.1" text-anchor="middle" fill="#111" transform="matrix(1 0 0 1.1 0 -64.43)">NMDS 1</text>
<text x="0" y="671.4" font-size="10.4" fill="#111" font-weight="bold" transform="matrix(1 0 0 1.1 0 -67.14)">(d)</text>
<rect x="79.5" y="674.6" width="139.1" height="170.60000000000002" fill="none" stroke="#333" stroke-width="0.9"/>
<line x1="80" y1="683.3" x2="218.1" y2="683.3" stroke="#bdbdbd" stroke-width="0.6" stroke-dasharray="1.6,1.2"/>
<text x="73.8" y="685.6" font-size="6.5" text-anchor="end" fill="#111" transform="matrix(1 0 0 1.1 0 -68.56)">Pleuromutilin_tiamulin</text>
<circle cx="213.62" cy="683.3" r="3.3" fill="#e3000f"/>
<line x1="80" y1="700.35" x2="218.1" y2="700.35" stroke="#bdbdbd" stroke-width="0.6" stroke-dasharray="1.6,1.2"/>
<text x="73.8" y="702.65" font-size="6.5" text-anchor="end" fill="#111" transform="matrix(1 0 0 1.1 0 -70.27)">Fosfomycin</text>
<circle cx="147.75" cy="700.35" r="3.3" fill="#e3000f"/>
<line x1="80" y1="717.4" x2="218.1" y2="717.4" stroke="#bdbdbd" stroke-width="0.6" stroke-dasharray="1.6,1.2"/>
<text x="73.8" y="719.7" font-size="6.5" text-anchor="end" fill="#111" transform="matrix(1 0 0 1.1 0 -71.97)">Aminoglycoside</text>
<circle cx="143.81" cy="717.4" r="3.3" fill="#e3000f"/>
<line x1="80" y1="734.45" x2="218.1" y2="734.45" stroke="#bdbdbd" stroke-width="0.6" stroke-dasharray="1.6,1.2"/>
<text x="73.8" y="736.75" font-size="6.5" text-anchor="end" fill="#111" transform="matrix(1 0 0 1.1 0 -73.68)">Other_peptide_antibiotics</text>
<circle cx="126.63" cy="734.45" r="3.3" fill="#e3000f"/>
<line x1="80" y1="751.5" x2="218.1" y2="751.5" stroke="#bdbdbd" stroke-width="0.6" stroke-dasharray="1.6,1.2"/>
<text x="73.8" y="753.8" font-size="6.5" text-anchor="end" fill="#111" transform="matrix(1 0 0 1.1 0 -75.38)">Bacitracin</text>
<circle cx="112.31" cy="751.5" r="3.3" fill="#e3000f"/>
<line x1="80" y1="768.55" x2="218.1" y2="768.55" stroke="#bdbdbd" stroke-width="0.6" stroke-dasharray="1.6,1.2"/>
<text x="73.8" y="770.85" font-size="6.5" text-anchor="end" fill="#111" transform="matrix(1 0 0 1.1 0 -77.09)">Streptothricin</text>
<circle cx="90.83" cy="768.55" r="3.3" fill="#e3000f"/>
<line x1="80" y1="785.6" x2="218.1" y2="785.6" stroke="#bdbdbd" stroke-width="0.6" stroke-dasharray="1.6,1.2"/>
<text x="73.8" y="787.9" font-size="6.5" text-anchor="end" fill="#111" transform="matrix(1 0 0 1.1 0 -78.79)">Polymyxin</text>
<circle cx="90.47" cy="785.6" r="3.3" fill="#e3000f"/>
<line x1="80" y1="802.65" x2="218.1" y2="802.65" stroke="#bdbdbd" stroke-width="0.6" stroke-dasharray="1.6,1.2"/>
<text x="73.8" y="804.95" font-size="6.5" text-anchor="end" fill="#111" transform="matrix(1 0 0 1.1 0 -80.5)">Multidrug</text>
<circle cx="86.89" cy="802.65" r="3.3" fill="#e3000f"/>
<line x1="80" y1="819.7" x2="218.1" y2="819.7" stroke="#bdbdbd" stroke-width="0.6" stroke-dasharray="1.6,1.2"/>
<text x="73.8" y="822" font-size="6.5" text-anchor="end" fill="#111" transform="matrix(1 0 0 1.1 0 -82.2)">Defensin</text>
<circle cx="85.46" cy="819.7" r="3.3" fill="#e3000f"/>
<line x1="80" y1="836.75" x2="218.1" y2="836.75" stroke="#bdbdbd" stroke-width="0.6" stroke-dasharray="1.6,1.2"/>
<text x="73.8" y="839.05" font-size="6.5" text-anchor="end" fill="#111" transform="matrix(1 0 0 1.1 0 -83.91)">Trimethoprim</text>
<circle cx="84.03" cy="836.75" r="3.3" fill="#e3000f"/>
<line x1="96.2" y1="845.2" x2="96.2" y2="847" stroke="#333" stroke-width="0.6"/>
<text x="96.2" y="853.4" font-size="7.4" text-anchor="middle" fill="#1a1a1a" transform="matrix(1 0 0 1.1 0 -85.34)">5</text>
<line x1="132" y1="845.2" x2="132" y2="847" stroke="#333" stroke-width="0.6"/>
<text x="132" y="853.4" font-size="7.4" text-anchor="middle" fill="#1a1a1a" transform="matrix(1 0 0 1.1 0 -85.34)">10</text>
<line x1="167.8" y1="845.2" x2="167.8" y2="847" stroke="#333" stroke-width="0.6"/>
<text x="167.8" y="853.4" font-size="7.4" text-anchor="middle" fill="#1a1a1a" transform="matrix(1 0 0 1.1 0 -85.34)">15</text>
<line x1="203.6" y1="845.2" x2="203.6" y2="847" stroke="#333" stroke-width="0.6"/>
<text x="203.6" y="853.4" font-size="7.4" text-anchor="middle" fill="#1a1a1a" transform="matrix(1 0 0 1.1 0 -85.34)">20</text>
<rect x="221.4" y="677.3" width="11.2" height="11.2" fill="#006b35" stroke="#555" stroke-width="0.6"/>
<rect x="234.7" y="677.3" width="11.2" height="11.2" fill="#a50026" stroke="#555" stroke-width="0.6"/>
<rect x="248" y="677.3" width="11.2" height="11.2" fill="#ebe38d" stroke="#555" stroke-width="0.6"/>
<rect x="221.4" y="694.38" width="11.2" height="11.2" fill="#006b35" stroke="#555" stroke-width="0.6"/>
<rect x="234.7" y="694.38" width="11.2" height="11.2" fill="#a50026" stroke="#555" stroke-width="0.6"/>
<rect x="248" y="694.38" width="11.2" height="11.2" fill="#ebe38d" stroke="#555" stroke-width="0.6"/>
<rect x="221.4" y="711.46" width="11.2" height="11.2" fill="#006b35" stroke="#555" stroke-width="0.6"/>
<rect x="234.7" y="711.46" width="11.2" height="11.2" fill="#ebe38d" stroke="#555" stroke-width="0.6"/>
<rect x="248" y="711.46" width="11.2" height="11.2" fill="#a50026" stroke="#555" stroke-width="0.6"/>
<rect x="221.4" y="728.54" width="11.2" height="11.2" fill="#006b35" stroke="#555" stroke-width="0.6"/>
<rect x="234.7" y="728.54" width="11.2" height="11.2" fill="#a50026" stroke="#555" stroke-width="0.6"/>
<rect x="248" y="728.54" width="11.2" height="11.2" fill="#ebe38d" stroke="#555" stroke-width="0.6"/>
<rect x="221.4" y="745.62" width="11.2" height="11.2" fill="#006b35" stroke="#555" stroke-width="0.6"/>
<rect x="234.7" y="745.62" width="11.2" height="11.2" fill="#a50026" stroke="#555" stroke-width="0.6"/>
<rect x="248" y="745.62" width="11.2" height="11.2" fill="#ebe38d" stroke="#555" stroke-width="0.6"/>
<rect x="221.4" y="762.7" width="11.2" height="11.2" fill="#006b35" stroke="#555" stroke-width="0.6"/>
<rect x="234.7" y="762.7" width="11.2" height="11.2" fill="#ebe38d" stroke="#555" stroke-width="0.6"/>
<rect x="248" y="762.7" width="11.2" height="11.2" fill="#a50026" stroke="#555" stroke-width="0.6"/>
<rect x="221.4" y="779.78" width="11.2" height="11.2" fill="#006b35" stroke="#555" stroke-width="0.6"/>
<rect x="234.7" y="779.78" width="11.2" height="11.2" fill="#a50026" stroke="#555" stroke-width="0.6"/>
<rect x="248" y="779.78" width="11.2" height="11.2" fill="#ebe38d" stroke="#555" stroke-width="0.6"/>
<rect x="221.4" y="796.86" width="11.2" height="11.2" fill="#006b35" stroke="#555" stroke-width="0.6"/>
<rect x="234.7" y="796.86" width="11.2" height="11.2" fill="#a50026" stroke="#555" stroke-width="0.6"/>
<rect x="248" y="796.86" width="11.2" height="11.2" fill="#ebe38d" stroke="#555" stroke-width="0.6"/>
<rect x="221.4" y="813.94" width="11.2" height="11.2" fill="#006b35" stroke="#555" stroke-width="0.6"/>
<rect x="234.7" y="813.94" width="11.2" height="11.2" fill="#ebe38d" stroke="#555" stroke-width="0.6"/>
<rect x="248" y="813.94" width="11.2" height="11.2" fill="#a50026" stroke="#555" stroke-width="0.6"/>
<rect x="221.4" y="831.02" width="11.2" height="11.2" fill="#006b35" stroke="#555" stroke-width="0.6"/>
<rect x="234.7" y="831.02" width="11.2" height="11.2" fill="#a50026" stroke="#555" stroke-width="0.6"/>
<rect x="248" y="831.02" width="11.2" height="11.2" fill="#ebe38d" stroke="#555" stroke-width="0.6"/>
<text x="225.8" y="675.9" font-size="6.9" fill="#1a1a1a" stroke="#1a1a1a" stroke-width="0.02" transform="rotate(-45 225.8 675.9)">Rural_SY</text>
<text x="239.1" y="675.9" font-size="6.9" fill="#1a1a1a" stroke="#1a1a1a" stroke-width="0.02" transform="rotate(-45 239.1 675.9)">Rural_YJ</text>
<text x="252.4" y="675.9" font-size="6.9" fill="#1a1a1a" stroke="#1a1a1a" stroke-width="0.02" transform="rotate(-45 252.4 675.9)">Urban</text>
<linearGradient id="gd" x1="0" y1="0" x2="0" y2="1"><stop offset="0" stop-color="#a50026"/><stop offset="0.1" stop-color="#ae0c2a"/><stop offset="0.25" stop-color="#df4430"/><stop offset="0.4" stop-color="#fb9d59"/><stop offset="0.55" stop-color="#fefebd"/><stop offset="0.7" stop-color="#b3e07a"/><stop offset="0.86" stop-color="#43a857"/><stop offset="1" stop-color="#006837"/></linearGradient>
<rect x="269.3" y="723" width="8" height="69.6" fill="url(#gd)"/>
<text x="273.3" y="720.6" font-size="7.3" text-anchor="middle" fill="#111" transform="matrix(1 0 0 1.1 0 -72.06)">High</text>
<text x="273.3" y="798.8" font-size="7.3" text-anchor="middle" fill="#111" transform="matrix(1 0 0 1.1 0 -79.88)">Low</text>
<text x="152.3" y="864" font-size="7.6" text-anchor="middle" fill="#111" transform="matrix(1 0 0 1.1 0 -86.4)">Mean Decrease Accuracy</text>
<text x="342.3" y="671.4" font-size="10.4" fill="#111" font-weight="bold" transform="matrix(1 0 0 1.1 0 -67.14)">(h)</text>
<rect x="417.2" y="680.2" width="150.7" height="164.79999999999995" fill="none" stroke="#333" stroke-width="0.9"/>
<line x1="417.7" y1="687.4" x2="567.4" y2="687.4" stroke="#bdbdbd" stroke-width="0.6" stroke-dasharray="1.6,1.2"/>
<text x="415.1" y="689.7" font-size="6.42" text-anchor="end" fill="#111" transform="matrix(1 0 0 1.1 0 -68.97)">Exotoxin</text>
<circle cx="562.5" cy="687.4" r="3.3" fill="#e3000f"/>
<line x1="417.7" y1="704.1" x2="567.4" y2="704.1" stroke="#bdbdbd" stroke-width="0.6" stroke-dasharray="1.6,1.2"/>
<text x="415.1" y="706.4" font-size="6.42" text-anchor="end" fill="#111" transform="matrix(1 0 0 1.1 0 -70.64)">Adherence</text>
<circle cx="486.43" cy="704.1" r="3.3" fill="#e3000f"/>
<line x1="417.7" y1="720.8" x2="567.4" y2="720.8" stroke="#bdbdbd" stroke-width="0.6" stroke-dasharray="1.6,1.2"/>
<text x="415.1" y="723.1" font-size="6.42" text-anchor="end" fill="#111" transform="matrix(1 0 0 1.1 0 -72.31)">Regulation</text>
<circle cx="485.74" cy="720.8" r="3.3" fill="#e3000f"/>
<line x1="417.7" y1="737.5" x2="567.4" y2="737.5" stroke="#bdbdbd" stroke-width="0.6" stroke-dasharray="1.6,1.2"/>
<text x="415.1" y="739.8" font-size="6.42" text-anchor="end" fill="#111" transform="matrix(1 0 0 1.1 0 -73.98)">Invasion</text>
<circle cx="441.25" cy="737.5" r="3.3" fill="#e3000f"/>
<line x1="417.7" y1="754.2" x2="567.4" y2="754.2" stroke="#bdbdbd" stroke-width="0.6" stroke-dasharray="1.6,1.2"/>
<text x="415.1" y="756.5" font-size="6.42" text-anchor="end" fill="#111" transform="matrix(1 0 0 1.1 0 -75.65)">Exoenzyme</text>
<circle cx="437.1" cy="754.2" r="3.3" fill="#e3000f"/>
<line x1="417.7" y1="770.9" x2="567.4" y2="770.9" stroke="#bdbdbd" stroke-width="0.6" stroke-dasharray="1.6,1.2"/>
<text x="415.1" y="773.2" font-size="6.42" text-anchor="end" fill="#111" transform="matrix(1 0 0 1.1 0 -77.32)">Biofilm</text>
<circle cx="434.8" cy="770.9" r="3.3" fill="#e3000f"/>
<line x1="417.7" y1="787.6" x2="567.4" y2="787.6" stroke="#bdbdbd" stroke-width="0.6" stroke-dasharray="1.6,1.2"/>
<text x="415.1" y="789.9" font-size="6.42" text-anchor="end" fill="#111" transform="matrix(1 0 0 1.1 0 -78.99)">Nutritional/Metabolic factor</text>
<circle cx="434.34" cy="787.6" r="3.3" fill="#e3000f"/>
<line x1="417.7" y1="804.3" x2="567.4" y2="804.3" stroke="#bdbdbd" stroke-width="0.6" stroke-dasharray="1.6,1.2"/>
<text x="415.1" y="806.6" font-size="6.42" text-anchor="end" fill="#111" transform="matrix(1 0 0 1.1 0 -80.66)">Immune modulation</text>
<circle cx="433.88" cy="804.3" r="3.3" fill="#e3000f"/>
<line x1="417.7" y1="821" x2="567.4" y2="821" stroke="#bdbdbd" stroke-width="0.6" stroke-dasharray="1.6,1.2"/>
<text x="415.1" y="823.3" font-size="6.42" text-anchor="end" fill="#111" transform="matrix(1 0 0 1.1 0 -82.33)">Post-translational modification</text>
<circle cx="422.81" cy="821" r="3.3" fill="#e3000f"/>
<line x1="417.7" y1="837.7" x2="567.4" y2="837.7" stroke="#bdbdbd" stroke-width="0.6" stroke-dasharray="1.6,1.2"/>
<text x="415.1" y="840" font-size="6.42" text-anchor="end" fill="#111" transform="matrix(1 0 0 1.1 0 -84)">Stress survival</text>
<circle cx="422.81" cy="837.7" r="3.3" fill="#e3000f"/>
<line x1="426.5" y1="845" x2="426.5" y2="846.8" stroke="#333" stroke-width="0.6"/>
<text x="426.5" y="853.2" font-size="7.4" text-anchor="middle" fill="#1a1a1a" transform="matrix(1 0 0 1.1 0 -85.32)">0</text>
<line x1="472.6" y1="845" x2="472.6" y2="846.8" stroke="#333" stroke-width="0.6"/>
<text x="472.6" y="853.2" font-size="7.4" text-anchor="middle" fill="#1a1a1a" transform="matrix(1 0 0 1.1 0 -85.32)">10</text>
<line x1="518.7" y1="845" x2="518.7" y2="846.8" stroke="#333" stroke-width="0.6"/>
<text x="518.7" y="853.2" font-size="7.4" text-anchor="middle" fill="#1a1a1a" transform="matrix(1 0 0 1.1 0 -85.32)">20</text>
<line x1="564.8" y1="845" x2="564.8" y2="846.8" stroke="#333" stroke-width="0.6"/>
<text x="564.8" y="853.2" font-size="7.4" text-anchor="middle" fill="#1a1a1a" transform="matrix(1 0 0 1.1 0 -85.32)">30</text>
<line x1="449.55" y1="845" x2="449.55" y2="846.8" stroke="#333" stroke-width="0.6"/>
<line x1="495.65" y1="845" x2="495.65" y2="846.8" stroke="#333" stroke-width="0.6"/>
<line x1="541.75" y1="845" x2="541.75" y2="846.8" stroke="#333" stroke-width="0.6"/>
<rect x="571.1" y="681.3" width="11" height="11" fill="#006b35" stroke="#555" stroke-width="0.6"/>
<rect x="584.3" y="681.3" width="11" height="11" fill="#a50026" stroke="#555" stroke-width="0.6"/>
<rect x="597.4" y="681.3" width="11" height="11" fill="#ebe38d" stroke="#555" stroke-width="0.6"/>
<rect x="571.1" y="698.23" width="11" height="11" fill="#006b35" stroke="#555" stroke-width="0.6"/>
<rect x="584.3" y="698.23" width="11" height="11" fill="#a50026" stroke="#555" stroke-width="0.6"/>
<rect x="597.4" y="698.23" width="11" height="11" fill="#ebe38d" stroke="#555" stroke-width="0.6"/>
<rect x="571.1" y="715.16" width="11" height="11" fill="#006b35" stroke="#555" stroke-width="0.6"/>
<rect x="584.3" y="715.16" width="11" height="11" fill="#a50026" stroke="#555" stroke-width="0.6"/>
<rect x="597.4" y="715.16" width="11" height="11" fill="#ebe38d" stroke="#555" stroke-width="0.6"/>
<rect x="571.1" y="732.09" width="11" height="11" fill="#006b35" stroke="#555" stroke-width="0.6"/>
<rect x="584.3" y="732.09" width="11" height="11" fill="#a50026" stroke="#555" stroke-width="0.6"/>
<rect x="597.4" y="732.09" width="11" height="11" fill="#ebe38d" stroke="#555" stroke-width="0.6"/>
<rect x="571.1" y="749.02" width="11" height="11" fill="#006b35" stroke="#555" stroke-width="0.6"/>
<rect x="584.3" y="749.02" width="11" height="11" fill="#a50026" stroke="#555" stroke-width="0.6"/>
<rect x="597.4" y="749.02" width="11" height="11" fill="#ebe38d" stroke="#555" stroke-width="0.6"/>
<rect x="571.1" y="765.95" width="11" height="11" fill="#006b35" stroke="#555" stroke-width="0.6"/>
<rect x="584.3" y="765.95" width="11" height="11" fill="#a50026" stroke="#555" stroke-width="0.6"/>
<rect x="597.4" y="765.95" width="11" height="11" fill="#ebe38d" stroke="#555" stroke-width="0.6"/>
<rect x="571.1" y="782.88" width="11" height="11" fill="#006b35" stroke="#555" stroke-width="0.6"/>
<rect x="584.3" y="782.88" width="11" height="11" fill="#a50026" stroke="#555" stroke-width="0.6"/>
<rect x="597.4" y="782.88" width="11" height="11" fill="#ebe38d" stroke="#555" stroke-width="0.6"/>
<rect x="571.1" y="799.81" width="11" height="11" fill="#006b35" stroke="#555" stroke-width="0.6"/>
<rect x="584.3" y="799.81" width="11" height="11" fill="#a50026" stroke="#555" stroke-width="0.6"/>
<rect x="597.4" y="799.81" width="11" height="11" fill="#ebe38d" stroke="#555" stroke-width="0.6"/>
<rect x="571.1" y="816.74" width="11" height="11" fill="#a50026" stroke="#555" stroke-width="0.6"/>
<rect x="584.3" y="816.74" width="11" height="11" fill="#ebe38d" stroke="#555" stroke-width="0.6"/>
<rect x="597.4" y="816.74" width="11" height="11" fill="#006b35" stroke="#555" stroke-width="0.6"/>
<rect x="571.1" y="833.67" width="11" height="11" fill="#006b35" stroke="#555" stroke-width="0.6"/>
<rect x="584.3" y="833.67" width="11" height="11" fill="#a50026" stroke="#555" stroke-width="0.6"/>
<rect x="597.4" y="833.67" width="11" height="11" fill="#ebe38d" stroke="#555" stroke-width="0.6"/>
<text x="575.5" y="679.1" font-size="6.9" fill="#1a1a1a" stroke="#1a1a1a" stroke-width="0.02" transform="rotate(-45 575.5 679.1)">Rural_SY</text>
<text x="588.7" y="679.1" font-size="6.9" fill="#1a1a1a" stroke="#1a1a1a" stroke-width="0.02" transform="rotate(-45 588.7 679.1)">Rural_YJ</text>
<text x="601.8" y="679.1" font-size="6.9" fill="#1a1a1a" stroke="#1a1a1a" stroke-width="0.02" transform="rotate(-45 601.8 679.1)">Urban</text>
<linearGradient id="gh" x1="0" y1="0" x2="0" y2="1"><stop offset="0" stop-color="#a50026"/><stop offset="0.1" stop-color="#ae0c2a"/><stop offset="0.25" stop-color="#df4430"/><stop offset="0.4" stop-color="#fb9d59"/><stop offset="0.55" stop-color="#fefebd"/><stop offset="0.7" stop-color="#b3e07a"/><stop offset="0.86" stop-color="#43a857"/><stop offset="1" stop-color="#006837"/></linearGradient>
<rect x="616" y="724.4" width="8" height="69.6" fill="url(#gh)"/>
<text x="620" y="722.2" font-size="7.3" text-anchor="middle" fill="#111" transform="matrix(1 0 0 1.1 0 -72.22)">High</text>
<text x="620" y="800.4" font-size="7.3" text-anchor="middle" fill="#111" transform="matrix(1 0 0 1.1 0 -80.04)">Low</text>
<text x="498.2" y="864" font-size="7.6" text-anchor="middle" fill="#111" transform="matrix(1 0 0 1.1 0 -86.4)">Mean Decrease Accuracy</text>
</svg>
</body></html>
